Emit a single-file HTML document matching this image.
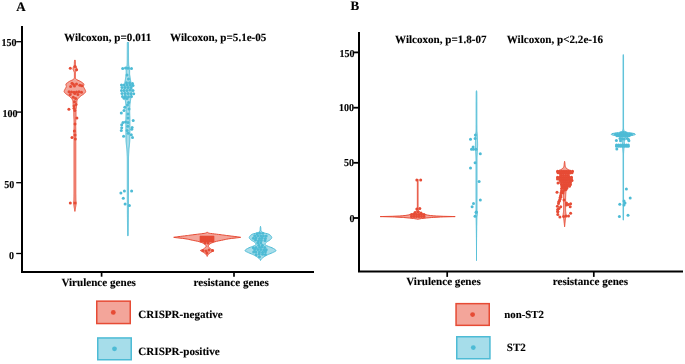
<!DOCTYPE html>
<html><head><meta charset="utf-8"><style>
html,body{margin:0;padding:0;background:#fff;}
body{width:685px;height:364px;overflow:hidden;}
svg{display:block;will-change:transform;filter:blur(0.25px);}
text{font-family:"Liberation Serif",serif;font-weight:bold;fill:#000;stroke:#000;stroke-width:0.12px;text-rendering:geometricPrecision;}
</style></head><body>
<svg width="685" height="364" viewBox="0 0 685 364">
<path d="M75.30,60.30 L75.33,60.80 L75.36,61.30 L75.39,61.80 L75.40,62.00 L75.41,62.30 L75.43,62.80 L75.44,63.30 L75.45,63.80 L75.46,64.30 L75.49,64.80 L75.50,65.00 L75.55,65.30 L75.71,65.80 L75.92,66.30 L76.00,66.50 L76.15,66.80 L76.45,67.30 L76.67,67.80 L76.70,68.00 L76.70,68.30 L76.70,68.80 L76.70,69.30 L76.70,69.50 L76.64,69.80 L76.39,70.30 L76.09,70.80 L76.00,71.00 L75.88,71.30 L75.68,71.80 L75.51,72.30 L75.41,72.80 L75.40,73.00 L75.40,73.30 L75.40,73.80 L75.40,74.30 L75.40,74.80 L75.40,75.30 L75.40,75.80 L75.40,76.30 L75.40,76.80 L75.40,77.30 L75.40,77.80 L75.40,78.00 L75.47,78.30 L75.83,78.80 L76.37,79.30 L76.60,79.50 L77.05,79.80 L78.13,80.30 L79.30,80.80 L79.90,81.10 L80.25,81.30 L81.07,81.80 L81.80,82.30 L82.20,82.60 L82.47,82.80 L83.17,83.30 L83.73,83.80 L83.90,84.20 L83.90,84.30 L83.83,84.80 L83.71,85.30 L83.59,85.80 L83.51,86.30 L83.50,86.50 L83.54,86.80 L83.73,87.30 L84.02,87.80 L84.33,88.30 L84.60,88.80 L84.84,89.30 L85.10,89.80 L85.34,90.30 L85.53,90.80 L85.64,91.30 L85.65,91.50 L85.60,91.80 L85.35,92.30 L84.94,92.80 L84.49,93.30 L84.40,93.40 L83.97,93.80 L83.28,94.30 L82.52,94.80 L81.80,95.30 L81.13,95.80 L80.46,96.30 L79.84,96.80 L79.40,97.20 L79.30,97.30 L78.81,97.80 L78.35,98.30 L77.96,98.80 L77.70,99.20 L77.64,99.30 L77.35,99.80 L77.10,100.30 L76.93,100.80 L76.90,101.00 L76.87,101.30 L76.83,101.80 L76.80,102.30 L76.78,102.80 L76.75,103.30 L76.73,103.80 L76.70,104.20 L76.69,104.30 L76.65,104.80 L76.60,105.30 L76.54,105.80 L76.48,106.30 L76.42,106.80 L76.40,107.00 L76.36,107.30 L76.28,107.80 L76.19,108.30 L76.11,108.80 L76.04,109.30 L76.00,109.80 L76.00,110.00 L76.00,110.30 L76.00,110.80 L76.00,111.30 L76.00,111.80 L76.00,112.30 L76.00,112.80 L76.00,113.30 L76.00,113.80 L76.00,114.30 L76.00,114.80 L76.00,115.00 L76.00,115.30 L75.99,115.80 L75.97,116.30 L75.95,116.80 L75.93,117.30 L75.90,117.80 L75.87,118.30 L75.85,118.80 L75.82,119.30 L75.81,119.80 L75.80,120.00 L75.79,120.30 L75.78,120.80 L75.76,121.30 L75.75,121.80 L75.74,122.30 L75.73,122.80 L75.72,123.30 L75.71,123.80 L75.70,124.30 L75.70,124.80 L75.70,125.00 L75.70,125.30 L75.70,125.80 L75.71,126.30 L75.72,126.80 L75.73,127.30 L75.75,127.80 L75.76,128.30 L75.77,128.80 L75.78,129.30 L75.80,129.80 L75.80,130.00 L75.81,130.30 L75.82,130.80 L75.83,131.30 L75.84,131.80 L75.86,132.30 L75.87,132.80 L75.88,133.30 L75.89,133.80 L75.90,134.30 L75.90,134.80 L75.90,135.00 L75.90,135.30 L75.89,135.80 L75.87,136.30 L75.86,136.80 L75.83,137.30 L75.81,137.80 L75.79,138.30 L75.77,138.80 L75.76,139.30 L75.75,139.80 L75.75,140.00 L75.75,140.30 L75.75,140.80 L75.76,141.30 L75.76,141.80 L75.77,142.30 L75.78,142.80 L75.79,143.30 L75.79,143.80 L75.80,144.30 L75.80,144.80 L75.80,145.00 L75.80,145.30 L75.80,145.80 L75.80,146.30 L75.80,146.80 L75.80,147.30 L75.80,147.80 L75.80,148.30 L75.80,148.80 L75.80,149.30 L75.80,149.80 L75.80,150.30 L75.80,150.80 L75.80,151.30 L75.80,151.80 L75.80,152.30 L75.80,152.80 L75.80,153.30 L75.80,153.80 L75.80,154.30 L75.80,154.80 L75.80,155.30 L75.80,155.80 L75.80,156.30 L75.80,156.80 L75.80,157.30 L75.80,157.80 L75.80,158.30 L75.80,158.80 L75.80,159.30 L75.80,159.80 L75.80,160.30 L75.80,160.80 L75.80,161.30 L75.80,161.80 L75.80,162.30 L75.80,162.80 L75.80,163.30 L75.80,163.80 L75.80,164.30 L75.80,164.80 L75.80,165.30 L75.80,165.80 L75.80,166.30 L75.80,166.80 L75.80,167.30 L75.80,167.80 L75.80,168.30 L75.80,168.80 L75.80,169.30 L75.80,169.80 L75.80,170.30 L75.80,170.80 L75.80,171.30 L75.80,171.80 L75.80,172.30 L75.80,172.80 L75.80,173.30 L75.80,173.80 L75.80,174.30 L75.80,174.80 L75.80,175.30 L75.80,175.80 L75.80,176.30 L75.80,176.80 L75.80,177.30 L75.80,177.80 L75.80,178.30 L75.80,178.80 L75.80,179.30 L75.80,179.80 L75.80,180.30 L75.80,180.80 L75.80,181.30 L75.80,181.80 L75.80,182.30 L75.80,182.80 L75.80,183.30 L75.80,183.80 L75.80,184.30 L75.80,184.80 L75.80,185.30 L75.80,185.80 L75.80,186.30 L75.80,186.80 L75.80,187.30 L75.80,187.80 L75.80,188.30 L75.80,188.80 L75.80,189.30 L75.80,189.80 L75.80,190.00 L75.80,190.30 L75.80,190.80 L75.80,191.30 L75.80,191.80 L75.80,192.30 L75.81,192.80 L75.81,193.30 L75.81,193.80 L75.82,194.30 L75.82,194.80 L75.83,195.30 L75.83,195.80 L75.84,196.30 L75.84,196.80 L75.85,197.30 L75.86,197.80 L75.87,198.30 L75.88,198.80 L75.89,199.30 L75.90,199.80 L75.90,200.00 L75.91,200.30 L75.96,200.80 L76.03,201.30 L76.10,201.80 L76.16,202.30 L76.20,202.80 L76.20,203.00 L76.19,203.30 L76.15,203.80 L76.09,204.30 L76.00,204.80 L75.92,205.30 L75.83,205.80 L75.80,206.00 L75.76,206.30 L75.68,206.80 L75.60,207.30 L75.52,207.80 L75.44,208.30 L75.36,208.80 L75.28,209.30 L75.19,209.80 L75.10,210.30 L75.01,210.80 L74.92,211.30 L74.90,211.40 L74.90,211.40 L74.88,211.30 L74.79,210.80 L74.70,210.30 L74.61,209.80 L74.52,209.30 L74.44,208.80 L74.36,208.30 L74.28,207.80 L74.20,207.30 L74.12,206.80 L74.04,206.30 L74.00,206.00 L73.97,205.80 L73.88,205.30 L73.80,204.80 L73.71,204.30 L73.65,203.80 L73.61,203.30 L73.60,203.00 L73.60,202.80 L73.64,202.30 L73.70,201.80 L73.77,201.30 L73.84,200.80 L73.89,200.30 L73.90,200.00 L73.90,199.80 L73.91,199.30 L73.92,198.80 L73.93,198.30 L73.94,197.80 L73.95,197.30 L73.96,196.80 L73.96,196.30 L73.97,195.80 L73.97,195.30 L73.98,194.80 L73.98,194.30 L73.99,193.80 L73.99,193.30 L73.99,192.80 L74.00,192.30 L74.00,191.80 L74.00,191.30 L74.00,190.80 L74.00,190.30 L74.00,190.00 L74.00,189.80 L74.00,189.30 L74.00,188.80 L74.00,188.30 L74.00,187.80 L74.00,187.30 L74.00,186.80 L74.00,186.30 L74.00,185.80 L74.00,185.30 L74.00,184.80 L74.00,184.30 L74.00,183.80 L74.00,183.30 L74.00,182.80 L74.00,182.30 L74.00,181.80 L74.00,181.30 L74.00,180.80 L74.00,180.30 L74.00,179.80 L74.00,179.30 L74.00,178.80 L74.00,178.30 L74.00,177.80 L74.00,177.30 L74.00,176.80 L74.00,176.30 L74.00,175.80 L74.00,175.30 L74.00,174.80 L74.00,174.30 L74.00,173.80 L74.00,173.30 L74.00,172.80 L74.00,172.30 L74.00,171.80 L74.00,171.30 L74.00,170.80 L74.00,170.30 L74.00,169.80 L74.00,169.30 L74.00,168.80 L74.00,168.30 L74.00,167.80 L74.00,167.30 L74.00,166.80 L74.00,166.30 L74.00,165.80 L74.00,165.30 L74.00,164.80 L74.00,164.30 L74.00,163.80 L74.00,163.30 L74.00,162.80 L74.00,162.30 L74.00,161.80 L74.00,161.30 L74.00,160.80 L74.00,160.30 L74.00,159.80 L74.00,159.30 L74.00,158.80 L74.00,158.30 L74.00,157.80 L74.00,157.30 L74.00,156.80 L74.00,156.30 L74.00,155.80 L74.00,155.30 L74.00,154.80 L74.00,154.30 L74.00,153.80 L74.00,153.30 L74.00,152.80 L74.00,152.30 L74.00,151.80 L74.00,151.30 L74.00,150.80 L74.00,150.30 L74.00,149.80 L74.00,149.30 L74.00,148.80 L74.00,148.30 L74.00,147.80 L74.00,147.30 L74.00,146.80 L74.00,146.30 L74.00,145.80 L74.00,145.30 L74.00,145.00 L74.00,144.80 L74.00,144.30 L74.01,143.80 L74.01,143.30 L74.02,142.80 L74.03,142.30 L74.04,141.80 L74.04,141.30 L74.05,140.80 L74.05,140.30 L74.05,140.00 L74.05,139.80 L74.04,139.30 L74.03,138.80 L74.01,138.30 L73.99,137.80 L73.97,137.30 L73.94,136.80 L73.93,136.30 L73.91,135.80 L73.90,135.30 L73.90,135.00 L73.90,134.80 L73.90,134.30 L73.91,133.80 L73.92,133.30 L73.93,132.80 L73.94,132.30 L73.96,131.80 L73.97,131.30 L73.98,130.80 L73.99,130.30 L74.00,130.00 L74.00,129.80 L74.02,129.30 L74.03,128.80 L74.04,128.30 L74.05,127.80 L74.07,127.30 L74.08,126.80 L74.09,126.30 L74.10,125.80 L74.10,125.30 L74.10,125.00 L74.10,124.80 L74.10,124.30 L74.09,123.80 L74.08,123.30 L74.07,122.80 L74.06,122.30 L74.05,121.80 L74.04,121.30 L74.02,120.80 L74.01,120.30 L74.00,120.00 L73.99,119.80 L73.98,119.30 L73.95,118.80 L73.93,118.30 L73.90,117.80 L73.87,117.30 L73.85,116.80 L73.83,116.30 L73.81,115.80 L73.80,115.30 L73.80,115.00 L73.80,114.80 L73.80,114.30 L73.80,113.80 L73.80,113.30 L73.80,112.80 L73.80,112.30 L73.80,111.80 L73.80,111.30 L73.80,110.80 L73.80,110.30 L73.80,110.00 L73.80,109.80 L73.76,109.30 L73.69,108.80 L73.61,108.30 L73.52,107.80 L73.44,107.30 L73.40,107.00 L73.38,106.80 L73.32,106.30 L73.26,105.80 L73.20,105.30 L73.15,104.80 L73.11,104.30 L73.10,104.20 L73.07,103.80 L73.05,103.30 L73.02,102.80 L73.00,102.30 L72.97,101.80 L72.93,101.30 L72.90,101.00 L72.87,100.80 L72.70,100.30 L72.45,99.80 L72.16,99.30 L72.10,99.20 L71.84,98.80 L71.45,98.30 L70.99,97.80 L70.50,97.30 L70.40,97.20 L69.96,96.80 L69.34,96.30 L68.67,95.80 L68.00,95.30 L67.28,94.80 L66.52,94.30 L65.83,93.80 L65.40,93.40 L65.31,93.30 L64.86,92.80 L64.45,92.30 L64.20,91.80 L64.15,91.50 L64.16,91.30 L64.27,90.80 L64.46,90.30 L64.70,89.80 L64.96,89.30 L65.20,88.80 L65.47,88.30 L65.78,87.80 L66.07,87.30 L66.26,86.80 L66.30,86.50 L66.29,86.30 L66.21,85.80 L66.09,85.30 L65.97,84.80 L65.90,84.30 L65.90,84.20 L66.07,83.80 L66.63,83.30 L67.33,82.80 L67.60,82.60 L68.00,82.30 L68.73,81.80 L69.55,81.30 L69.90,81.10 L70.50,80.80 L71.67,80.30 L72.75,79.80 L73.20,79.50 L73.43,79.30 L73.97,78.80 L74.33,78.30 L74.40,78.00 L74.40,77.80 L74.40,77.30 L74.40,76.80 L74.40,76.30 L74.40,75.80 L74.40,75.30 L74.40,74.80 L74.40,74.30 L74.40,73.80 L74.40,73.30 L74.40,73.00 L74.39,72.80 L74.29,72.30 L74.12,71.80 L73.92,71.30 L73.80,71.00 L73.71,70.80 L73.41,70.30 L73.16,69.80 L73.10,69.50 L73.10,69.30 L73.10,68.80 L73.10,68.30 L73.10,68.00 L73.13,67.80 L73.35,67.30 L73.65,66.80 L73.80,66.50 L73.88,66.30 L74.09,65.80 L74.25,65.30 L74.30,65.00 L74.31,64.80 L74.34,64.30 L74.35,63.80 L74.36,63.30 L74.37,62.80 L74.39,62.30 L74.40,62.00 L74.41,61.80 L74.44,61.30 L74.47,60.80 L74.50,60.30 Z" fill="#F3A59A" stroke="#E64B35" stroke-width="1.0" stroke-linejoin="round"/>
<circle cx="70.3" cy="68.2" r="1.5" fill="#E64B35"/><circle cx="76.6" cy="69.8" r="1.5" fill="#E64B35"/><circle cx="75" cy="66.5" r="1.5" fill="#E64B35"/><circle cx="73.3" cy="84.2" r="1.5" fill="#E64B35"/><circle cx="70.6" cy="86.5" r="1.5" fill="#E64B35"/><circle cx="74.5" cy="86.1" r="1.5" fill="#E64B35"/><circle cx="79.8" cy="85.3" r="1.5" fill="#E64B35"/><circle cx="81.8" cy="85.7" r="1.5" fill="#E64B35"/><circle cx="76.5" cy="84" r="1.5" fill="#E64B35"/><circle cx="72" cy="83.2" r="1.5" fill="#E64B35"/><circle cx="69" cy="91.8" r="1.5" fill="#E64B35"/><circle cx="71.5" cy="92" r="1.5" fill="#E64B35"/><circle cx="74" cy="92.3" r="1.5" fill="#E64B35"/><circle cx="76.5" cy="92" r="1.5" fill="#E64B35"/><circle cx="79" cy="91.8" r="1.5" fill="#E64B35"/><circle cx="81.5" cy="92.2" r="1.5" fill="#E64B35"/><circle cx="70.2" cy="94.5" r="1.5" fill="#E64B35"/><circle cx="74.8" cy="93.4" r="1.5" fill="#E64B35"/><circle cx="77.9" cy="94.5" r="1.5" fill="#E64B35"/><circle cx="73.3" cy="97.2" r="1.5" fill="#E64B35"/><circle cx="75.6" cy="98.4" r="1.5" fill="#E64B35"/><circle cx="74.5" cy="101.8" r="1.5" fill="#E64B35"/><circle cx="76" cy="104.5" r="1.5" fill="#E64B35"/><circle cx="74" cy="106" r="1.5" fill="#E64B35"/><circle cx="68.9" cy="109.3" r="1.5" fill="#E64B35"/><circle cx="74" cy="108.3" r="1.5" fill="#E64B35"/><circle cx="74.8" cy="110.4" r="1.5" fill="#E64B35"/><circle cx="76.9" cy="118" r="1.5" fill="#E64B35"/><circle cx="74.4" cy="131" r="1.5" fill="#E64B35"/><circle cx="72" cy="137.6" r="1.5" fill="#E64B35"/><circle cx="75" cy="135" r="1.5" fill="#E64B35"/><circle cx="75.3" cy="139" r="1.5" fill="#E64B35"/><circle cx="75" cy="124" r="1.5" fill="#E64B35"/><circle cx="70.3" cy="202.9" r="1.5" fill="#E64B35"/><circle cx="75" cy="203" r="1.5" fill="#E64B35"/>
<path d="M128.50,42.50 L128.50,43.00 L128.50,43.50 L128.50,44.00 L128.50,44.50 L128.50,45.00 L128.50,45.50 L128.50,46.00 L128.50,46.50 L128.50,47.00 L128.50,47.50 L128.50,48.00 L128.51,48.50 L128.51,49.00 L128.51,49.50 L128.51,50.00 L128.51,50.50 L128.51,51.00 L128.51,51.50 L128.51,52.00 L128.52,52.50 L128.52,53.00 L128.52,53.50 L128.52,54.00 L128.52,54.50 L128.52,55.00 L128.53,55.50 L128.53,56.00 L128.53,56.50 L128.53,57.00 L128.54,57.50 L128.54,58.00 L128.54,58.50 L128.54,59.00 L128.55,59.50 L128.55,60.00 L128.55,60.50 L128.56,61.00 L128.57,61.50 L128.58,62.00 L128.59,62.50 L128.61,63.00 L128.63,63.50 L128.65,64.00 L128.67,64.50 L128.70,65.00 L128.77,65.50 L128.89,66.00 L129.04,66.50 L129.20,67.00 L129.42,67.50 L129.68,68.00 L129.80,68.50 L129.77,69.00 L129.70,69.50 L129.63,70.00 L129.60,70.50 L129.60,71.00 L129.60,71.50 L129.60,72.00 L129.60,72.50 L129.60,73.00 L129.60,73.50 L129.61,74.00 L129.65,74.50 L129.71,75.00 L129.79,75.50 L129.87,76.00 L129.96,76.50 L130.04,77.00 L130.10,77.40 L130.11,77.50 L130.19,78.00 L130.27,78.50 L130.35,79.00 L130.43,79.50 L130.52,80.00 L130.60,80.50 L130.69,81.00 L130.78,81.50 L130.88,82.00 L130.97,82.50 L131.07,83.00 L131.16,83.50 L131.25,84.00 L131.33,84.50 L131.40,85.00 L131.47,85.50 L131.53,86.00 L131.60,86.50 L131.67,87.00 L131.73,87.50 L131.79,88.00 L131.83,88.50 L131.87,89.00 L131.89,89.50 L131.90,90.00 L131.89,90.50 L131.87,91.00 L131.83,91.50 L131.78,92.00 L131.73,92.50 L131.67,93.00 L131.60,93.50 L131.53,94.00 L131.46,94.50 L131.40,95.00 L131.33,95.50 L131.26,96.00 L131.17,96.50 L131.08,97.00 L130.99,97.50 L130.90,98.00 L130.81,98.50 L130.73,99.00 L130.65,99.50 L130.60,99.80 L130.57,100.00 L130.49,100.50 L130.42,101.00 L130.34,101.50 L130.26,102.00 L130.19,102.50 L130.12,103.00 L130.05,103.50 L130.00,104.00 L129.95,104.50 L129.91,105.00 L129.90,105.20 L129.88,105.50 L129.86,106.00 L129.83,106.50 L129.81,107.00 L129.79,107.50 L129.77,108.00 L129.75,108.50 L129.74,109.00 L129.72,109.50 L129.71,110.00 L129.71,110.50 L129.70,111.00 L129.70,111.40 L129.70,111.50 L129.70,112.00 L129.71,112.50 L129.72,113.00 L129.73,113.50 L129.74,114.00 L129.76,114.50 L129.78,115.00 L129.79,115.50 L129.81,116.00 L129.83,116.50 L129.84,117.00 L129.86,117.50 L129.87,118.00 L129.88,118.50 L129.89,119.00 L129.90,119.50 L129.90,120.00 L129.90,120.50 L129.90,121.00 L129.90,121.50 L129.90,122.00 L129.90,122.50 L129.90,123.00 L129.90,123.50 L129.90,124.00 L129.90,124.50 L129.90,125.00 L129.90,125.50 L129.90,126.00 L129.90,126.50 L129.90,127.00 L129.90,127.50 L129.90,128.00 L129.90,128.50 L129.90,129.00 L129.90,129.50 L129.90,130.00 L129.90,130.50 L129.90,131.00 L129.90,131.50 L129.90,132.00 L129.89,132.50 L129.89,133.00 L129.89,133.50 L129.88,134.00 L129.88,134.50 L129.87,135.00 L129.87,135.50 L129.86,136.00 L129.86,136.50 L129.85,137.00 L129.84,137.50 L129.84,138.00 L129.83,138.50 L129.82,139.00 L129.81,139.50 L129.80,140.00 L129.78,140.50 L129.76,141.00 L129.73,141.50 L129.69,142.00 L129.64,142.50 L129.60,143.00 L129.55,143.50 L129.50,144.00 L129.45,144.50 L129.40,145.00 L129.35,145.50 L129.30,146.00 L129.25,146.50 L129.19,147.00 L129.13,147.50 L129.08,148.00 L129.02,148.50 L128.98,149.00 L128.93,149.50 L128.90,150.00 L128.87,150.50 L128.84,151.00 L128.81,151.50 L128.78,152.00 L128.75,152.50 L128.73,153.00 L128.70,153.50 L128.67,154.00 L128.65,154.50 L128.62,155.00 L128.60,155.50 L128.58,156.00 L128.56,156.50 L128.55,157.00 L128.53,157.50 L128.52,158.00 L128.51,158.50 L128.51,159.00 L128.50,159.50 L128.50,160.00 L128.50,160.50 L128.50,161.00 L128.50,161.50 L128.50,162.00 L128.50,162.50 L128.50,163.00 L128.50,163.50 L128.50,164.00 L128.50,164.50 L128.50,165.00 L128.50,165.50 L128.50,166.00 L128.50,166.50 L128.50,167.00 L128.50,167.50 L128.50,168.00 L128.50,168.50 L128.50,169.00 L128.50,169.50 L128.50,170.00 L128.50,170.50 L128.50,171.00 L128.50,171.50 L128.50,172.00 L128.50,172.50 L128.50,173.00 L128.50,173.50 L128.50,174.00 L128.50,174.50 L128.50,175.00 L128.50,175.50 L128.50,176.00 L128.50,176.50 L128.50,177.00 L128.50,177.50 L128.50,178.00 L128.50,178.50 L128.50,179.00 L128.50,179.50 L128.50,180.00 L128.50,180.50 L128.50,181.00 L128.50,181.50 L128.50,182.00 L128.50,182.50 L128.50,183.00 L128.50,183.50 L128.50,184.00 L128.50,184.50 L128.50,185.00 L128.50,185.50 L128.50,186.00 L128.50,186.50 L128.50,187.00 L128.50,187.50 L128.50,188.00 L128.50,188.50 L128.50,189.00 L128.50,189.50 L128.50,190.00 L128.50,190.50 L128.50,191.00 L128.50,191.50 L128.50,192.00 L128.50,192.50 L128.50,193.00 L128.50,193.50 L128.50,194.00 L128.50,194.50 L128.50,195.00 L128.49,195.50 L128.49,196.00 L128.49,196.50 L128.49,197.00 L128.49,197.50 L128.49,198.00 L128.49,198.50 L128.48,199.00 L128.48,199.50 L128.48,200.00 L128.48,200.50 L128.48,201.00 L128.48,201.50 L128.47,202.00 L128.47,202.50 L128.47,203.00 L128.47,203.50 L128.46,204.00 L128.46,204.50 L128.46,205.00 L128.46,205.50 L128.45,206.00 L128.45,206.50 L128.45,207.00 L128.45,207.50 L128.44,208.00 L128.44,208.50 L128.44,209.00 L128.43,209.50 L128.43,210.00 L128.43,210.50 L128.42,211.00 L128.42,211.50 L128.42,212.00 L128.41,212.50 L128.41,213.00 L128.41,213.50 L128.40,214.00 L128.40,214.50 L128.39,215.00 L128.39,215.50 L128.39,216.00 L128.38,216.50 L128.38,217.00 L128.37,217.50 L128.37,218.00 L128.37,218.50 L128.36,219.00 L128.36,219.50 L128.35,220.00 L128.35,220.50 L128.34,221.00 L128.34,221.50 L128.34,222.00 L128.33,222.50 L128.33,223.00 L128.32,223.50 L128.32,224.00 L128.31,224.50 L128.31,225.00 L128.30,225.50 L128.30,226.00 L128.29,226.50 L128.29,227.00 L128.28,227.50 L128.28,228.00 L128.27,228.50 L128.27,229.00 L128.26,229.50 L128.26,230.00 L128.25,230.50 L128.25,231.00 L128.24,231.50 L128.24,232.00 L128.23,232.50 L128.23,233.00 L128.22,233.50 L128.22,234.00 L128.21,234.50 L128.21,235.00 L128.20,235.50 L128.20,235.70 L127.60,235.70 L127.60,235.50 L127.59,235.00 L127.59,234.50 L127.58,234.00 L127.58,233.50 L127.57,233.00 L127.57,232.50 L127.56,232.00 L127.56,231.50 L127.55,231.00 L127.55,230.50 L127.54,230.00 L127.54,229.50 L127.53,229.00 L127.53,228.50 L127.52,228.00 L127.52,227.50 L127.51,227.00 L127.51,226.50 L127.50,226.00 L127.50,225.50 L127.49,225.00 L127.49,224.50 L127.48,224.00 L127.48,223.50 L127.47,223.00 L127.47,222.50 L127.46,222.00 L127.46,221.50 L127.46,221.00 L127.45,220.50 L127.45,220.00 L127.44,219.50 L127.44,219.00 L127.43,218.50 L127.43,218.00 L127.43,217.50 L127.42,217.00 L127.42,216.50 L127.41,216.00 L127.41,215.50 L127.41,215.00 L127.40,214.50 L127.40,214.00 L127.39,213.50 L127.39,213.00 L127.39,212.50 L127.38,212.00 L127.38,211.50 L127.38,211.00 L127.37,210.50 L127.37,210.00 L127.37,209.50 L127.36,209.00 L127.36,208.50 L127.36,208.00 L127.35,207.50 L127.35,207.00 L127.35,206.50 L127.35,206.00 L127.34,205.50 L127.34,205.00 L127.34,204.50 L127.34,204.00 L127.33,203.50 L127.33,203.00 L127.33,202.50 L127.33,202.00 L127.32,201.50 L127.32,201.00 L127.32,200.50 L127.32,200.00 L127.32,199.50 L127.32,199.00 L127.31,198.50 L127.31,198.00 L127.31,197.50 L127.31,197.00 L127.31,196.50 L127.31,196.00 L127.31,195.50 L127.30,195.00 L127.30,194.50 L127.30,194.00 L127.30,193.50 L127.30,193.00 L127.30,192.50 L127.30,192.00 L127.30,191.50 L127.30,191.00 L127.30,190.50 L127.30,190.00 L127.30,189.50 L127.30,189.00 L127.30,188.50 L127.30,188.00 L127.30,187.50 L127.30,187.00 L127.30,186.50 L127.30,186.00 L127.30,185.50 L127.30,185.00 L127.30,184.50 L127.30,184.00 L127.30,183.50 L127.30,183.00 L127.30,182.50 L127.30,182.00 L127.30,181.50 L127.30,181.00 L127.30,180.50 L127.30,180.00 L127.30,179.50 L127.30,179.00 L127.30,178.50 L127.30,178.00 L127.30,177.50 L127.30,177.00 L127.30,176.50 L127.30,176.00 L127.30,175.50 L127.30,175.00 L127.30,174.50 L127.30,174.00 L127.30,173.50 L127.30,173.00 L127.30,172.50 L127.30,172.00 L127.30,171.50 L127.30,171.00 L127.30,170.50 L127.30,170.00 L127.30,169.50 L127.30,169.00 L127.30,168.50 L127.30,168.00 L127.30,167.50 L127.30,167.00 L127.30,166.50 L127.30,166.00 L127.30,165.50 L127.30,165.00 L127.30,164.50 L127.30,164.00 L127.30,163.50 L127.30,163.00 L127.30,162.50 L127.30,162.00 L127.30,161.50 L127.30,161.00 L127.30,160.50 L127.30,160.00 L127.30,159.50 L127.29,159.00 L127.29,158.50 L127.28,158.00 L127.27,157.50 L127.25,157.00 L127.24,156.50 L127.22,156.00 L127.20,155.50 L127.18,155.00 L127.15,154.50 L127.13,154.00 L127.10,153.50 L127.07,153.00 L127.05,152.50 L127.02,152.00 L126.99,151.50 L126.96,151.00 L126.93,150.50 L126.90,150.00 L126.87,149.50 L126.82,149.00 L126.78,148.50 L126.72,148.00 L126.67,147.50 L126.61,147.00 L126.55,146.50 L126.50,146.00 L126.45,145.50 L126.40,145.00 L126.35,144.50 L126.30,144.00 L126.25,143.50 L126.20,143.00 L126.16,142.50 L126.11,142.00 L126.07,141.50 L126.04,141.00 L126.02,140.50 L126.00,140.00 L125.99,139.50 L125.98,139.00 L125.97,138.50 L125.96,138.00 L125.96,137.50 L125.95,137.00 L125.94,136.50 L125.94,136.00 L125.93,135.50 L125.93,135.00 L125.92,134.50 L125.92,134.00 L125.91,133.50 L125.91,133.00 L125.91,132.50 L125.90,132.00 L125.90,131.50 L125.90,131.00 L125.90,130.50 L125.90,130.00 L125.90,129.50 L125.90,129.00 L125.90,128.50 L125.90,128.00 L125.90,127.50 L125.90,127.00 L125.90,126.50 L125.90,126.00 L125.90,125.50 L125.90,125.00 L125.90,124.50 L125.90,124.00 L125.90,123.50 L125.90,123.00 L125.90,122.50 L125.90,122.00 L125.90,121.50 L125.90,121.00 L125.90,120.50 L125.90,120.00 L125.90,119.50 L125.91,119.00 L125.92,118.50 L125.93,118.00 L125.94,117.50 L125.96,117.00 L125.97,116.50 L125.99,116.00 L126.01,115.50 L126.02,115.00 L126.04,114.50 L126.06,114.00 L126.07,113.50 L126.08,113.00 L126.09,112.50 L126.10,112.00 L126.10,111.50 L126.10,111.40 L126.10,111.00 L126.09,110.50 L126.09,110.00 L126.08,109.50 L126.06,109.00 L126.05,108.50 L126.03,108.00 L126.01,107.50 L125.99,107.00 L125.97,106.50 L125.94,106.00 L125.92,105.50 L125.90,105.20 L125.89,105.00 L125.85,104.50 L125.80,104.00 L125.75,103.50 L125.68,103.00 L125.61,102.50 L125.54,102.00 L125.46,101.50 L125.38,101.00 L125.31,100.50 L125.23,100.00 L125.20,99.80 L125.15,99.50 L125.07,99.00 L124.99,98.50 L124.90,98.00 L124.81,97.50 L124.72,97.00 L124.63,96.50 L124.54,96.00 L124.47,95.50 L124.40,95.00 L124.34,94.50 L124.27,94.00 L124.20,93.50 L124.13,93.00 L124.07,92.50 L124.02,92.00 L123.97,91.50 L123.93,91.00 L123.91,90.50 L123.90,90.00 L123.91,89.50 L123.93,89.00 L123.97,88.50 L124.01,88.00 L124.07,87.50 L124.13,87.00 L124.20,86.50 L124.27,86.00 L124.33,85.50 L124.40,85.00 L124.47,84.50 L124.55,84.00 L124.64,83.50 L124.73,83.00 L124.83,82.50 L124.92,82.00 L125.02,81.50 L125.11,81.00 L125.20,80.50 L125.28,80.00 L125.37,79.50 L125.45,79.00 L125.53,78.50 L125.61,78.00 L125.69,77.50 L125.70,77.40 L125.76,77.00 L125.84,76.50 L125.93,76.00 L126.01,75.50 L126.09,75.00 L126.15,74.50 L126.19,74.00 L126.20,73.50 L126.20,73.00 L126.20,72.50 L126.20,72.00 L126.20,71.50 L126.20,71.00 L126.20,70.50 L126.17,70.00 L126.10,69.50 L126.03,69.00 L126.00,68.50 L126.12,68.00 L126.38,67.50 L126.60,67.00 L126.76,66.50 L126.91,66.00 L127.03,65.50 L127.10,65.00 L127.13,64.50 L127.15,64.00 L127.17,63.50 L127.19,63.00 L127.21,62.50 L127.22,62.00 L127.23,61.50 L127.24,61.00 L127.25,60.50 L127.25,60.00 L127.25,59.50 L127.26,59.00 L127.26,58.50 L127.26,58.00 L127.26,57.50 L127.27,57.00 L127.27,56.50 L127.27,56.00 L127.27,55.50 L127.28,55.00 L127.28,54.50 L127.28,54.00 L127.28,53.50 L127.28,53.00 L127.28,52.50 L127.29,52.00 L127.29,51.50 L127.29,51.00 L127.29,50.50 L127.29,50.00 L127.29,49.50 L127.29,49.00 L127.29,48.50 L127.30,48.00 L127.30,47.50 L127.30,47.00 L127.30,46.50 L127.30,46.00 L127.30,45.50 L127.30,45.00 L127.30,44.50 L127.30,44.00 L127.30,43.50 L127.30,43.00 L127.30,42.50 Z" fill="#A6DDEA" stroke="#4DBBD5" stroke-width="1.0" stroke-linejoin="round"/>
<circle cx="122.7" cy="68.5" r="1.5" fill="#4DBBD5"/><circle cx="125.5" cy="68" r="1.5" fill="#4DBBD5"/><circle cx="128" cy="68.2" r="1.5" fill="#4DBBD5"/><circle cx="131.5" cy="68.5" r="1.5" fill="#4DBBD5"/><circle cx="127" cy="75" r="1.5" fill="#4DBBD5"/><circle cx="128.5" cy="79" r="1.5" fill="#4DBBD5"/><circle cx="126.5" cy="82.8" r="1.5" fill="#4DBBD5"/><circle cx="129.5" cy="82.8" r="1.5" fill="#4DBBD5"/><circle cx="132.5" cy="83.5" r="1.5" fill="#4DBBD5"/><circle cx="121.5" cy="85" r="1.5" fill="#4DBBD5"/><circle cx="124" cy="85" r="1.5" fill="#4DBBD5"/><circle cx="127" cy="85" r="1.5" fill="#4DBBD5"/><circle cx="130" cy="85" r="1.5" fill="#4DBBD5"/><circle cx="133" cy="85.5" r="1.5" fill="#4DBBD5"/><circle cx="122" cy="87.5" r="1.5" fill="#4DBBD5"/><circle cx="125" cy="87.5" r="1.5" fill="#4DBBD5"/><circle cx="128" cy="87.5" r="1.5" fill="#4DBBD5"/><circle cx="131" cy="87.5" r="1.5" fill="#4DBBD5"/><circle cx="121.5" cy="90.5" r="1.5" fill="#4DBBD5"/><circle cx="124" cy="90.5" r="1.5" fill="#4DBBD5"/><circle cx="127" cy="90.5" r="1.5" fill="#4DBBD5"/><circle cx="130" cy="90" r="1.5" fill="#4DBBD5"/><circle cx="133" cy="90.5" r="1.5" fill="#4DBBD5"/><circle cx="122" cy="93.5" r="1.5" fill="#4DBBD5"/><circle cx="125" cy="93.5" r="1.5" fill="#4DBBD5"/><circle cx="128" cy="93.5" r="1.5" fill="#4DBBD5"/><circle cx="131" cy="93.7" r="1.5" fill="#4DBBD5"/><circle cx="133.7" cy="93.7" r="1.5" fill="#4DBBD5"/><circle cx="122.5" cy="96.5" r="1.5" fill="#4DBBD5"/><circle cx="125.5" cy="96.5" r="1.5" fill="#4DBBD5"/><circle cx="128.5" cy="96.8" r="1.5" fill="#4DBBD5"/><circle cx="131.5" cy="96.5" r="1.5" fill="#4DBBD5"/><circle cx="124" cy="98.3" r="1.5" fill="#4DBBD5"/><circle cx="127" cy="98.5" r="1.5" fill="#4DBBD5"/><circle cx="128.6" cy="102.5" r="1.5" fill="#4DBBD5"/><circle cx="124.8" cy="107.2" r="1.5" fill="#4DBBD5"/><circle cx="124" cy="110.6" r="1.5" fill="#4DBBD5"/><circle cx="121.3" cy="112.9" r="1.5" fill="#4DBBD5"/><circle cx="127.5" cy="105" r="1.5" fill="#4DBBD5"/><circle cx="129" cy="109" r="1.5" fill="#4DBBD5"/><circle cx="128" cy="114" r="1.5" fill="#4DBBD5"/><circle cx="133.2" cy="120.5" r="1.5" fill="#4DBBD5"/><circle cx="123" cy="122.5" r="1.5" fill="#4DBBD5"/><circle cx="125.5" cy="122" r="1.5" fill="#4DBBD5"/><circle cx="128" cy="122.5" r="1.5" fill="#4DBBD5"/><circle cx="121.7" cy="124.7" r="1.5" fill="#4DBBD5"/><circle cx="121.7" cy="127.8" r="1.5" fill="#4DBBD5"/><circle cx="121.3" cy="130.5" r="1.5" fill="#4DBBD5"/><circle cx="127.8" cy="126.2" r="1.5" fill="#4DBBD5"/><circle cx="132.1" cy="127.4" r="1.5" fill="#4DBBD5"/><circle cx="131.7" cy="129.3" r="1.5" fill="#4DBBD5"/><circle cx="127.1" cy="130.5" r="1.5" fill="#4DBBD5"/><circle cx="123.6" cy="136.2" r="1.5" fill="#4DBBD5"/><circle cx="131.3" cy="134.7" r="1.5" fill="#4DBBD5"/><circle cx="132.5" cy="137.4" r="1.5" fill="#4DBBD5"/><circle cx="128.2" cy="133.2" r="1.5" fill="#4DBBD5"/><circle cx="128" cy="118" r="1.5" fill="#4DBBD5"/><circle cx="120.9" cy="192.9" r="1.5" fill="#4DBBD5"/><circle cx="124.4" cy="191.1" r="1.5" fill="#4DBBD5"/><circle cx="131.6" cy="191.1" r="1.5" fill="#4DBBD5"/><circle cx="123.3" cy="198.3" r="1.5" fill="#4DBBD5"/><circle cx="125.1" cy="204" r="1.5" fill="#4DBBD5"/><circle cx="129.4" cy="205.4" r="1.5" fill="#4DBBD5"/>
<path d="M207.20,231.90 L207.49,232.40 L207.70,232.60 L208.25,232.90 L209.20,233.20 L210.34,233.40 L212.70,233.70 L214.25,233.90 L216.70,234.20 L218.38,234.40 L221.70,234.80 L222.45,234.90 L225.95,235.40 L226.70,235.50 L230.03,235.90 L231.70,236.10 L234.12,236.40 L237.20,236.80 L238.04,236.90 L240.70,237.30 L240.46,237.40 L237.20,237.80 L236.35,237.90 L231.70,238.40 L228.38,238.90 L226.70,239.20 L225.70,239.40 L223.48,239.90 L221.70,240.30 L221.21,240.40 L218.58,240.90 L216.70,241.30 L216.31,241.40 L214.59,241.90 L213.70,242.20 L213.13,242.40 L211.84,242.90 L211.20,243.20 L210.82,243.40 L209.95,243.90 L209.30,244.40 L209.20,244.50 L208.87,244.90 L208.57,245.40 L208.50,245.60 L208.41,245.90 L208.31,246.40 L208.30,246.60 L208.41,246.90 L208.93,247.40 L209.58,247.90 L209.70,248.00 L210.16,248.40 L210.79,248.90 L211.53,249.40 L211.70,249.50 L212.76,249.90 L213.95,250.40 L214.00,250.50 L213.51,250.90 L212.70,251.30 L212.53,251.40 L211.68,251.90 L210.85,252.40 L210.70,252.50 L210.09,252.90 L209.38,253.40 L208.90,253.80 L208.80,253.90 L208.34,254.40 L207.96,254.90 L207.90,255.00 L207.66,255.40 L207.40,255.90 L207.20,256.40 L207.20,256.40 L207.00,255.90 L206.74,255.40 L206.50,255.00 L206.44,254.90 L206.06,254.40 L205.60,253.90 L205.50,253.80 L205.02,253.40 L204.31,252.90 L203.70,252.50 L203.55,252.40 L202.72,251.90 L201.87,251.40 L201.70,251.30 L200.89,250.90 L200.40,250.50 L200.45,250.40 L201.64,249.90 L202.70,249.50 L202.87,249.40 L203.61,248.90 L204.24,248.40 L204.70,248.00 L204.82,247.90 L205.47,247.40 L205.99,246.90 L206.10,246.60 L206.09,246.40 L205.99,245.90 L205.90,245.60 L205.83,245.40 L205.53,244.90 L205.20,244.50 L205.10,244.40 L204.45,243.90 L203.58,243.40 L203.20,243.20 L202.56,242.90 L201.27,242.40 L200.70,242.20 L199.81,241.90 L198.09,241.40 L197.70,241.30 L195.82,240.90 L193.19,240.40 L192.70,240.30 L190.92,239.90 L188.70,239.40 L187.70,239.20 L186.02,238.90 L182.70,238.40 L178.05,237.90 L177.20,237.80 L173.94,237.40 L173.70,237.30 L176.36,236.90 L177.20,236.80 L180.28,236.40 L182.70,236.10 L184.37,235.90 L187.70,235.50 L188.45,235.40 L191.95,234.90 L192.70,234.80 L196.02,234.40 L197.70,234.20 L200.15,233.90 L201.70,233.70 L204.06,233.40 L205.20,233.20 L206.15,232.90 L206.70,232.60 L206.91,232.40 L207.20,231.90 Z" fill="#F3A59A" stroke="#E64B35" stroke-width="1.0" stroke-linejoin="round"/>
<circle cx="201" cy="237" r="1.5" fill="#E64B35"/><circle cx="201" cy="239" r="1.5" fill="#E64B35"/><circle cx="201" cy="241" r="1.5" fill="#E64B35"/><circle cx="203" cy="237" r="1.5" fill="#E64B35"/><circle cx="203" cy="239" r="1.5" fill="#E64B35"/><circle cx="203" cy="241" r="1.5" fill="#E64B35"/><circle cx="205" cy="237" r="1.5" fill="#E64B35"/><circle cx="205" cy="239" r="1.5" fill="#E64B35"/><circle cx="205" cy="241" r="1.5" fill="#E64B35"/><circle cx="207" cy="237" r="1.5" fill="#E64B35"/><circle cx="207" cy="239" r="1.5" fill="#E64B35"/><circle cx="207" cy="241" r="1.5" fill="#E64B35"/><circle cx="209" cy="237" r="1.5" fill="#E64B35"/><circle cx="209" cy="239" r="1.5" fill="#E64B35"/><circle cx="209" cy="241" r="1.5" fill="#E64B35"/><circle cx="211" cy="237" r="1.5" fill="#E64B35"/><circle cx="211" cy="239" r="1.5" fill="#E64B35"/><circle cx="211" cy="241" r="1.5" fill="#E64B35"/><circle cx="213" cy="237" r="1.5" fill="#E64B35"/><circle cx="213" cy="239" r="1.5" fill="#E64B35"/><circle cx="213" cy="241" r="1.5" fill="#E64B35"/><circle cx="205" cy="243" r="1.5" fill="#E64B35"/><circle cx="208" cy="243" r="1.5" fill="#E64B35"/><circle cx="203" cy="250.5" r="1.5" fill="#E64B35"/><circle cx="206" cy="251" r="1.5" fill="#E64B35"/><circle cx="209" cy="250" r="1.5" fill="#E64B35"/><circle cx="212.5" cy="250.5" r="1.5" fill="#E64B35"/><circle cx="207" cy="253" r="1.5" fill="#E64B35"/>
<path d="M260.50,226.30 L260.60,226.80 L260.70,227.30 L260.78,227.80 L260.80,228.00 L260.83,228.30 L260.86,228.80 L260.89,229.30 L260.92,229.80 L260.97,230.30 L261.00,230.50 L261.07,230.80 L261.27,231.30 L261.60,231.80 L262.36,232.30 L263.62,232.80 L263.90,232.90 L265.51,233.30 L267.72,233.80 L268.00,233.90 L268.89,234.30 L269.77,234.80 L270.41,235.30 L270.60,235.50 L270.85,235.80 L271.23,236.30 L271.53,236.80 L271.72,237.30 L271.75,237.60 L271.73,237.80 L271.52,238.30 L271.16,238.80 L270.69,239.30 L270.30,239.70 L270.20,239.80 L269.49,240.30 L268.61,240.80 L267.71,241.30 L267.10,241.70 L266.97,241.80 L266.30,242.30 L265.75,242.80 L265.60,243.00 L265.41,243.30 L265.14,243.80 L265.00,244.30 L265.00,244.40 L265.24,244.80 L265.97,245.30 L266.30,245.50 L266.92,245.80 L268.25,246.30 L268.50,246.40 L269.51,246.80 L270.83,247.30 L272.09,247.80 L273.15,248.30 L273.50,248.50 L273.99,248.80 L274.80,249.30 L275.49,249.80 L275.92,250.30 L276.00,250.60 L275.94,250.80 L275.40,251.30 L274.45,251.80 L273.35,252.30 L272.50,252.70 L272.30,252.80 L271.15,253.30 L269.87,253.80 L268.61,254.30 L267.50,254.80 L266.56,255.30 L265.70,255.80 L264.90,256.30 L264.15,256.80 L264.00,256.90 L263.42,257.30 L262.72,257.80 L262.11,258.30 L262.00,258.40 L261.59,258.80 L261.14,259.30 L261.00,259.50 L260.82,259.80 L260.57,260.30 L260.50,260.50 L260.50,260.50 L260.43,260.30 L260.18,259.80 L260.00,259.50 L259.86,259.30 L259.41,258.80 L259.00,258.40 L258.89,258.30 L258.28,257.80 L257.58,257.30 L257.00,256.90 L256.85,256.80 L256.10,256.30 L255.30,255.80 L254.44,255.30 L253.50,254.80 L252.39,254.30 L251.13,253.80 L249.85,253.30 L248.70,252.80 L248.50,252.70 L247.65,252.30 L246.55,251.80 L245.60,251.30 L245.06,250.80 L245.00,250.60 L245.08,250.30 L245.51,249.80 L246.20,249.30 L247.01,248.80 L247.50,248.50 L247.85,248.30 L248.91,247.80 L250.17,247.30 L251.49,246.80 L252.50,246.40 L252.75,246.30 L254.08,245.80 L254.70,245.50 L255.03,245.30 L255.76,244.80 L256.00,244.40 L256.00,244.30 L255.86,243.80 L255.59,243.30 L255.40,243.00 L255.25,242.80 L254.70,242.30 L254.03,241.80 L253.90,241.70 L253.29,241.30 L252.39,240.80 L251.51,240.30 L250.80,239.80 L250.70,239.70 L250.31,239.30 L249.84,238.80 L249.48,238.30 L249.27,237.80 L249.25,237.60 L249.28,237.30 L249.47,236.80 L249.77,236.30 L250.15,235.80 L250.40,235.50 L250.59,235.30 L251.23,234.80 L252.11,234.30 L253.00,233.90 L253.28,233.80 L255.49,233.30 L257.10,232.90 L257.38,232.80 L258.64,232.30 L259.40,231.80 L259.73,231.30 L259.93,230.80 L260.00,230.50 L260.03,230.30 L260.08,229.80 L260.11,229.30 L260.14,228.80 L260.17,228.30 L260.20,228.00 L260.22,227.80 L260.30,227.30 L260.40,226.80 L260.50,226.30 Z" fill="#A6DDEA" stroke="#4DBBD5" stroke-width="1.0" stroke-linejoin="round"/>
<circle cx="257.07" cy="233.68" r="1.5" fill="#4DBBD5"/><circle cx="259.64" cy="233.34" r="1.5" fill="#4DBBD5"/><circle cx="262.66" cy="233.17" r="1.5" fill="#4DBBD5"/><circle cx="254.7" cy="235.7" r="1.5" fill="#4DBBD5"/><circle cx="257.77" cy="235.85" r="1.5" fill="#4DBBD5"/><circle cx="260.69" cy="235.97" r="1.5" fill="#4DBBD5"/><circle cx="263.41" cy="236.12" r="1.5" fill="#4DBBD5"/><circle cx="266.17" cy="235.96" r="1.5" fill="#4DBBD5"/><circle cx="253.43" cy="238.19" r="1.5" fill="#4DBBD5"/><circle cx="256.11" cy="237.9" r="1.5" fill="#4DBBD5"/><circle cx="259.54" cy="238.51" r="1.5" fill="#4DBBD5"/><circle cx="262.05" cy="238.29" r="1.5" fill="#4DBBD5"/><circle cx="265.4" cy="238.46" r="1.5" fill="#4DBBD5"/><circle cx="255.53" cy="240.09" r="1.5" fill="#4DBBD5"/><circle cx="258.5" cy="240.76" r="1.5" fill="#4DBBD5"/><circle cx="261.34" cy="240.4" r="1.5" fill="#4DBBD5"/><circle cx="264.93" cy="240.49" r="1.5" fill="#4DBBD5"/><circle cx="257.8" cy="242.63" r="1.5" fill="#4DBBD5"/><circle cx="260.7" cy="243.05" r="1.5" fill="#4DBBD5"/><circle cx="258.74" cy="245.3" r="1.5" fill="#4DBBD5"/><circle cx="262.41" cy="245.3" r="1.5" fill="#4DBBD5"/><circle cx="253.32" cy="247.65" r="1.5" fill="#4DBBD5"/><circle cx="256.08" cy="247.38" r="1.5" fill="#4DBBD5"/><circle cx="259.63" cy="247.25" r="1.5" fill="#4DBBD5"/><circle cx="262.03" cy="247.12" r="1.5" fill="#4DBBD5"/><circle cx="264.72" cy="247.56" r="1.5" fill="#4DBBD5"/><circle cx="254.72" cy="249.55" r="1.5" fill="#4DBBD5"/><circle cx="257.84" cy="249.38" r="1.5" fill="#4DBBD5"/><circle cx="260.81" cy="249.46" r="1.5" fill="#4DBBD5"/><circle cx="263.72" cy="249.9" r="1.5" fill="#4DBBD5"/><circle cx="266.23" cy="249.67" r="1.5" fill="#4DBBD5"/><circle cx="253.66" cy="251.99" r="1.5" fill="#4DBBD5"/><circle cx="256.04" cy="252.09" r="1.5" fill="#4DBBD5"/><circle cx="259.43" cy="252.07" r="1.5" fill="#4DBBD5"/><circle cx="262.56" cy="252.13" r="1.5" fill="#4DBBD5"/><circle cx="265.42" cy="251.77" r="1.5" fill="#4DBBD5"/><circle cx="256.16" cy="254.63" r="1.5" fill="#4DBBD5"/><circle cx="259.27" cy="254.11" r="1.5" fill="#4DBBD5"/><circle cx="262.59" cy="254.26" r="1.5" fill="#4DBBD5"/><circle cx="265.35" cy="254.56" r="1.5" fill="#4DBBD5"/><circle cx="259.47" cy="256.8" r="1.5" fill="#4DBBD5"/>
<path d="M417.70,179.00 L417.92,179.50 L418.05,180.00 L418.05,180.50 L418.05,181.00 L418.05,181.50 L418.05,182.00 L418.05,182.50 L418.05,183.00 L418.05,183.50 L418.05,184.00 L418.05,184.50 L418.05,185.00 L418.05,185.50 L418.05,186.00 L418.05,186.50 L418.05,187.00 L418.05,187.50 L418.05,188.00 L418.05,188.50 L418.05,189.00 L418.05,189.50 L418.05,190.00 L418.05,190.50 L418.05,191.00 L418.05,191.50 L418.05,192.00 L418.05,192.50 L418.05,193.00 L418.05,193.50 L418.05,194.00 L418.05,194.50 L418.05,195.00 L418.05,195.50 L418.05,196.00 L418.05,196.50 L418.05,197.00 L418.05,197.50 L418.05,198.00 L418.05,198.50 L418.05,199.00 L418.05,199.50 L418.05,200.00 L418.05,200.50 L418.05,201.00 L418.05,201.50 L418.05,202.00 L418.05,202.50 L418.05,203.00 L418.05,203.50 L418.05,204.00 L418.05,204.50 L418.05,205.00 L418.05,205.50 L418.05,206.00 L418.05,206.50 L418.05,207.00 L418.05,207.50 L418.05,208.00 L418.08,208.50 L418.16,209.00 L418.27,209.50 L418.40,210.00 L418.59,210.50 L418.88,211.00 L419.25,211.50 L419.70,212.00 L420.31,212.50 L421.16,213.00 L422.20,213.50 L423.46,214.00 L425.08,214.50 L427.20,215.00 L430.31,215.50 L433.20,215.80 L436.22,216.00 L443.20,216.30 L452.70,216.50 L455.20,216.60 L443.20,216.90 L440.64,217.00 L433.20,217.40 L431.78,217.50 L426.20,218.00 L421.87,218.50 L421.20,218.60 L418.93,219.00 L417.70,219.30 L417.70,219.30 L416.47,219.00 L414.20,218.60 L413.53,218.50 L409.20,218.00 L403.62,217.50 L402.20,217.40 L394.76,217.00 L392.20,216.90 L380.20,216.60 L382.70,216.50 L392.20,216.30 L399.18,216.00 L402.20,215.80 L405.09,215.50 L408.20,215.00 L410.32,214.50 L411.94,214.00 L413.20,213.50 L414.24,213.00 L415.09,212.50 L415.70,212.00 L416.15,211.50 L416.52,211.00 L416.81,210.50 L417.00,210.00 L417.13,209.50 L417.24,209.00 L417.32,208.50 L417.35,208.00 L417.35,207.50 L417.35,207.00 L417.35,206.50 L417.35,206.00 L417.35,205.50 L417.35,205.00 L417.35,204.50 L417.35,204.00 L417.35,203.50 L417.35,203.00 L417.35,202.50 L417.35,202.00 L417.35,201.50 L417.35,201.00 L417.35,200.50 L417.35,200.00 L417.35,199.50 L417.35,199.00 L417.35,198.50 L417.35,198.00 L417.35,197.50 L417.35,197.00 L417.35,196.50 L417.35,196.00 L417.35,195.50 L417.35,195.00 L417.35,194.50 L417.35,194.00 L417.35,193.50 L417.35,193.00 L417.35,192.50 L417.35,192.00 L417.35,191.50 L417.35,191.00 L417.35,190.50 L417.35,190.00 L417.35,189.50 L417.35,189.00 L417.35,188.50 L417.35,188.00 L417.35,187.50 L417.35,187.00 L417.35,186.50 L417.35,186.00 L417.35,185.50 L417.35,185.00 L417.35,184.50 L417.35,184.00 L417.35,183.50 L417.35,183.00 L417.35,182.50 L417.35,182.00 L417.35,181.50 L417.35,181.00 L417.35,180.50 L417.35,180.00 L417.48,179.50 L417.70,179.00 Z" fill="#F3A59A" stroke="#E64B35" stroke-width="1.0" stroke-linejoin="round"/>
<circle cx="416.8" cy="180.1" r="1.5" fill="#E64B35"/><circle cx="420.7" cy="180.1" r="1.5" fill="#E64B35"/><circle cx="416.8" cy="208.9" r="1.5" fill="#E64B35"/><circle cx="419.8" cy="208.6" r="1.5" fill="#E64B35"/><circle cx="411.5" cy="214.5" r="1.5" fill="#E64B35"/><circle cx="411.5" cy="216.5" r="1.5" fill="#E64B35"/><circle cx="414" cy="214.5" r="1.5" fill="#E64B35"/><circle cx="414" cy="216.5" r="1.5" fill="#E64B35"/><circle cx="416.5" cy="214.5" r="1.5" fill="#E64B35"/><circle cx="416.5" cy="216.5" r="1.5" fill="#E64B35"/><circle cx="419" cy="214.5" r="1.5" fill="#E64B35"/><circle cx="419" cy="216.5" r="1.5" fill="#E64B35"/><circle cx="421.5" cy="214.5" r="1.5" fill="#E64B35"/><circle cx="421.5" cy="216.5" r="1.5" fill="#E64B35"/><circle cx="424" cy="214.5" r="1.5" fill="#E64B35"/><circle cx="424" cy="216.5" r="1.5" fill="#E64B35"/><circle cx="415" cy="212.5" r="1.5" fill="#E64B35"/><circle cx="418" cy="212" r="1.5" fill="#E64B35"/><circle cx="421" cy="213" r="1.5" fill="#E64B35"/>
<path d="M476.50,90.70 L476.64,91.20 L476.77,91.70 L476.80,92.00 L476.80,92.20 L476.81,92.70 L476.81,93.20 L476.81,93.70 L476.81,94.20 L476.82,94.70 L476.82,95.20 L476.82,95.70 L476.83,96.20 L476.83,96.70 L476.83,97.20 L476.83,97.70 L476.83,98.20 L476.84,98.70 L476.84,99.20 L476.84,99.70 L476.84,100.20 L476.84,100.70 L476.84,101.20 L476.84,101.70 L476.85,102.20 L476.85,102.70 L476.85,103.20 L476.85,103.70 L476.85,104.20 L476.85,104.70 L476.85,105.20 L476.85,105.70 L476.85,106.20 L476.85,106.70 L476.85,107.20 L476.85,107.70 L476.85,108.20 L476.85,108.70 L476.85,109.20 L476.85,109.70 L476.85,110.20 L476.85,110.70 L476.85,111.20 L476.85,111.70 L476.85,112.20 L476.85,112.70 L476.85,113.20 L476.85,113.70 L476.86,114.20 L476.86,114.70 L476.86,115.20 L476.86,115.70 L476.86,116.20 L476.86,116.70 L476.86,117.20 L476.86,117.70 L476.86,118.20 L476.86,118.70 L476.86,119.20 L476.86,119.70 L476.86,120.20 L476.86,120.70 L476.86,121.20 L476.86,121.70 L476.87,122.20 L476.87,122.70 L476.87,123.20 L476.87,123.70 L476.87,124.20 L476.87,124.70 L476.88,125.20 L476.88,125.70 L476.88,126.20 L476.88,126.70 L476.88,127.20 L476.89,127.70 L476.89,128.20 L476.89,128.70 L476.89,129.20 L476.90,129.70 L476.90,130.00 L476.90,130.20 L476.92,130.70 L476.95,131.20 L476.99,131.70 L477.04,132.20 L477.10,132.70 L477.15,133.20 L477.20,133.70 L477.25,134.20 L477.28,134.70 L477.30,135.00 L477.31,135.20 L477.33,135.70 L477.35,136.20 L477.38,136.70 L477.40,137.20 L477.42,137.70 L477.44,138.20 L477.46,138.70 L477.48,139.20 L477.50,139.70 L477.51,140.20 L477.53,140.70 L477.54,141.20 L477.56,141.70 L477.57,142.20 L477.58,142.70 L477.59,143.20 L477.59,143.70 L477.60,144.20 L477.60,144.70 L477.60,145.00 L477.60,145.20 L477.59,145.70 L477.58,146.20 L477.56,146.70 L477.54,147.20 L477.51,147.70 L477.49,148.20 L477.46,148.70 L477.44,149.20 L477.41,149.70 L477.40,150.00 L477.39,150.20 L477.37,150.70 L477.35,151.20 L477.32,151.70 L477.30,152.20 L477.27,152.70 L477.24,153.20 L477.22,153.70 L477.19,154.20 L477.17,154.70 L477.14,155.20 L477.12,155.70 L477.09,156.20 L477.07,156.70 L477.05,157.20 L477.04,157.70 L477.02,158.20 L477.01,158.70 L477.00,159.20 L477.00,159.70 L477.00,160.00 L477.00,160.20 L477.00,160.70 L477.00,161.20 L477.00,161.70 L477.00,162.20 L477.00,162.70 L477.00,163.20 L477.00,163.70 L477.00,164.20 L477.00,164.70 L477.00,165.20 L477.00,165.70 L477.00,166.20 L477.00,166.70 L477.00,167.20 L477.00,167.70 L477.00,168.20 L477.00,168.70 L477.00,169.20 L477.00,169.70 L477.00,170.20 L477.00,170.70 L477.00,171.20 L477.00,171.70 L477.00,172.20 L477.00,172.70 L477.00,173.20 L477.00,173.70 L477.00,174.20 L477.00,174.70 L477.00,175.20 L477.00,175.70 L477.00,176.20 L477.00,176.70 L477.00,177.20 L477.00,177.70 L477.00,178.20 L477.00,178.70 L477.00,179.20 L477.00,179.70 L477.00,180.20 L477.00,180.70 L477.00,181.20 L477.00,181.70 L477.00,182.20 L477.00,182.70 L477.00,183.20 L477.00,183.70 L477.00,184.20 L477.00,184.70 L477.00,185.20 L477.00,185.70 L477.00,186.20 L477.00,186.70 L477.00,187.20 L477.00,187.70 L477.00,188.20 L477.00,188.70 L477.00,189.20 L477.00,189.70 L477.00,190.20 L477.00,190.70 L477.00,191.20 L477.00,191.70 L477.00,192.20 L477.00,192.70 L477.00,193.20 L477.00,193.70 L477.00,194.20 L477.00,194.70 L477.00,195.20 L477.00,195.70 L477.00,196.20 L477.00,196.70 L477.00,197.20 L477.00,197.70 L477.00,198.20 L477.00,198.70 L477.00,199.20 L477.00,199.70 L477.00,200.20 L477.00,200.70 L477.00,201.20 L477.00,201.70 L477.00,202.20 L477.00,202.70 L477.00,203.20 L477.00,203.70 L477.00,204.20 L477.00,204.70 L477.00,205.20 L477.00,205.70 L477.00,206.20 L477.00,206.70 L477.00,207.20 L477.00,207.70 L477.00,208.20 L477.00,208.70 L477.00,209.20 L477.00,209.70 L477.00,210.00 L477.00,210.20 L477.02,210.70 L477.06,211.20 L477.12,211.70 L477.17,212.20 L477.23,212.70 L477.27,213.20 L477.30,213.70 L477.30,214.00 L477.30,214.20 L477.27,214.70 L477.22,215.20 L477.15,215.70 L477.08,216.20 L477.01,216.70 L476.95,217.20 L476.91,217.70 L476.90,218.00 L476.90,218.20 L476.88,218.70 L476.87,219.20 L476.86,219.70 L476.85,220.20 L476.84,220.70 L476.83,221.20 L476.82,221.70 L476.81,222.20 L476.80,222.70 L476.79,223.20 L476.79,223.70 L476.78,224.20 L476.77,224.70 L476.76,225.20 L476.75,225.70 L476.74,226.20 L476.73,226.70 L476.73,227.20 L476.72,227.70 L476.71,228.20 L476.70,228.70 L476.70,229.20 L476.69,229.70 L476.68,230.20 L476.68,230.70 L476.67,231.20 L476.66,231.70 L476.66,232.20 L476.65,232.70 L476.64,233.20 L476.64,233.70 L476.63,234.20 L476.63,234.70 L476.62,235.20 L476.62,235.70 L476.61,236.20 L476.61,236.70 L476.60,237.20 L476.60,237.70 L476.59,238.20 L476.59,238.70 L476.58,239.20 L476.58,239.70 L476.57,240.20 L476.57,240.70 L476.57,241.20 L476.56,241.70 L476.56,242.20 L476.56,242.70 L476.55,243.20 L476.55,243.70 L476.55,244.20 L476.54,244.70 L476.54,245.20 L476.54,245.70 L476.53,246.20 L476.53,246.70 L476.53,247.20 L476.53,247.70 L476.52,248.20 L476.52,248.70 L476.52,249.20 L476.52,249.70 L476.52,250.20 L476.52,250.70 L476.51,251.20 L476.51,251.70 L476.51,252.20 L476.51,252.70 L476.51,253.20 L476.51,253.70 L476.51,254.20 L476.51,254.70 L476.50,255.20 L476.50,255.70 L476.50,256.20 L476.50,256.70 L476.50,257.20 L476.50,257.70 L476.50,258.20 L476.50,258.70 L476.50,259.20 L476.50,259.70 L476.50,260.20 L476.50,260.60 L476.50,260.60 L476.50,260.20 L476.50,259.70 L476.50,259.20 L476.50,258.70 L476.50,258.20 L476.50,257.70 L476.50,257.20 L476.50,256.70 L476.50,256.20 L476.50,255.70 L476.50,255.20 L476.49,254.70 L476.49,254.20 L476.49,253.70 L476.49,253.20 L476.49,252.70 L476.49,252.20 L476.49,251.70 L476.49,251.20 L476.48,250.70 L476.48,250.20 L476.48,249.70 L476.48,249.20 L476.48,248.70 L476.48,248.20 L476.47,247.70 L476.47,247.20 L476.47,246.70 L476.47,246.20 L476.46,245.70 L476.46,245.20 L476.46,244.70 L476.45,244.20 L476.45,243.70 L476.45,243.20 L476.44,242.70 L476.44,242.20 L476.44,241.70 L476.43,241.20 L476.43,240.70 L476.43,240.20 L476.42,239.70 L476.42,239.20 L476.41,238.70 L476.41,238.20 L476.40,237.70 L476.40,237.20 L476.39,236.70 L476.39,236.20 L476.38,235.70 L476.38,235.20 L476.37,234.70 L476.37,234.20 L476.36,233.70 L476.36,233.20 L476.35,232.70 L476.34,232.20 L476.34,231.70 L476.33,231.20 L476.32,230.70 L476.32,230.20 L476.31,229.70 L476.30,229.20 L476.30,228.70 L476.29,228.20 L476.28,227.70 L476.27,227.20 L476.27,226.70 L476.26,226.20 L476.25,225.70 L476.24,225.20 L476.23,224.70 L476.22,224.20 L476.21,223.70 L476.21,223.20 L476.20,222.70 L476.19,222.20 L476.18,221.70 L476.17,221.20 L476.16,220.70 L476.15,220.20 L476.14,219.70 L476.13,219.20 L476.12,218.70 L476.10,218.20 L476.10,218.00 L476.09,217.70 L476.05,217.20 L475.99,216.70 L475.92,216.20 L475.85,215.70 L475.78,215.20 L475.73,214.70 L475.70,214.20 L475.70,214.00 L475.70,213.70 L475.73,213.20 L475.77,212.70 L475.83,212.20 L475.88,211.70 L475.94,211.20 L475.98,210.70 L476.00,210.20 L476.00,210.00 L476.00,209.70 L476.00,209.20 L476.00,208.70 L476.00,208.20 L476.00,207.70 L476.00,207.20 L476.00,206.70 L476.00,206.20 L476.00,205.70 L476.00,205.20 L476.00,204.70 L476.00,204.20 L476.00,203.70 L476.00,203.20 L476.00,202.70 L476.00,202.20 L476.00,201.70 L476.00,201.20 L476.00,200.70 L476.00,200.20 L476.00,199.70 L476.00,199.20 L476.00,198.70 L476.00,198.20 L476.00,197.70 L476.00,197.20 L476.00,196.70 L476.00,196.20 L476.00,195.70 L476.00,195.20 L476.00,194.70 L476.00,194.20 L476.00,193.70 L476.00,193.20 L476.00,192.70 L476.00,192.20 L476.00,191.70 L476.00,191.20 L476.00,190.70 L476.00,190.20 L476.00,189.70 L476.00,189.20 L476.00,188.70 L476.00,188.20 L476.00,187.70 L476.00,187.20 L476.00,186.70 L476.00,186.20 L476.00,185.70 L476.00,185.20 L476.00,184.70 L476.00,184.20 L476.00,183.70 L476.00,183.20 L476.00,182.70 L476.00,182.20 L476.00,181.70 L476.00,181.20 L476.00,180.70 L476.00,180.20 L476.00,179.70 L476.00,179.20 L476.00,178.70 L476.00,178.20 L476.00,177.70 L476.00,177.20 L476.00,176.70 L476.00,176.20 L476.00,175.70 L476.00,175.20 L476.00,174.70 L476.00,174.20 L476.00,173.70 L476.00,173.20 L476.00,172.70 L476.00,172.20 L476.00,171.70 L476.00,171.20 L476.00,170.70 L476.00,170.20 L476.00,169.70 L476.00,169.20 L476.00,168.70 L476.00,168.20 L476.00,167.70 L476.00,167.20 L476.00,166.70 L476.00,166.20 L476.00,165.70 L476.00,165.20 L476.00,164.70 L476.00,164.20 L476.00,163.70 L476.00,163.20 L476.00,162.70 L476.00,162.20 L476.00,161.70 L476.00,161.20 L476.00,160.70 L476.00,160.20 L476.00,160.00 L476.00,159.70 L476.00,159.20 L475.99,158.70 L475.98,158.20 L475.96,157.70 L475.95,157.20 L475.93,156.70 L475.91,156.20 L475.88,155.70 L475.86,155.20 L475.83,154.70 L475.81,154.20 L475.78,153.70 L475.76,153.20 L475.73,152.70 L475.70,152.20 L475.68,151.70 L475.65,151.20 L475.63,150.70 L475.61,150.20 L475.60,150.00 L475.59,149.70 L475.56,149.20 L475.54,148.70 L475.51,148.20 L475.49,147.70 L475.46,147.20 L475.44,146.70 L475.42,146.20 L475.41,145.70 L475.40,145.20 L475.40,145.00 L475.40,144.70 L475.40,144.20 L475.41,143.70 L475.41,143.20 L475.42,142.70 L475.43,142.20 L475.44,141.70 L475.46,141.20 L475.47,140.70 L475.49,140.20 L475.50,139.70 L475.52,139.20 L475.54,138.70 L475.56,138.20 L475.58,137.70 L475.60,137.20 L475.62,136.70 L475.65,136.20 L475.67,135.70 L475.69,135.20 L475.70,135.00 L475.72,134.70 L475.75,134.20 L475.80,133.70 L475.85,133.20 L475.90,132.70 L475.96,132.20 L476.01,131.70 L476.05,131.20 L476.08,130.70 L476.10,130.20 L476.10,130.00 L476.10,129.70 L476.11,129.20 L476.11,128.70 L476.11,128.20 L476.11,127.70 L476.12,127.20 L476.12,126.70 L476.12,126.20 L476.12,125.70 L476.12,125.20 L476.13,124.70 L476.13,124.20 L476.13,123.70 L476.13,123.20 L476.13,122.70 L476.13,122.20 L476.14,121.70 L476.14,121.20 L476.14,120.70 L476.14,120.20 L476.14,119.70 L476.14,119.20 L476.14,118.70 L476.14,118.20 L476.14,117.70 L476.14,117.20 L476.14,116.70 L476.14,116.20 L476.14,115.70 L476.14,115.20 L476.14,114.70 L476.14,114.20 L476.15,113.70 L476.15,113.20 L476.15,112.70 L476.15,112.20 L476.15,111.70 L476.15,111.20 L476.15,110.70 L476.15,110.20 L476.15,109.70 L476.15,109.20 L476.15,108.70 L476.15,108.20 L476.15,107.70 L476.15,107.20 L476.15,106.70 L476.15,106.20 L476.15,105.70 L476.15,105.20 L476.15,104.70 L476.15,104.20 L476.15,103.70 L476.15,103.20 L476.15,102.70 L476.15,102.20 L476.16,101.70 L476.16,101.20 L476.16,100.70 L476.16,100.20 L476.16,99.70 L476.16,99.20 L476.16,98.70 L476.17,98.20 L476.17,97.70 L476.17,97.20 L476.17,96.70 L476.17,96.20 L476.18,95.70 L476.18,95.20 L476.18,94.70 L476.19,94.20 L476.19,93.70 L476.19,93.20 L476.19,92.70 L476.20,92.20 L476.20,92.00 L476.23,91.70 L476.36,91.20 L476.50,90.70 Z" fill="#A6DDEA" stroke="#4DBBD5" stroke-width="1.0" stroke-linejoin="round"/>
<circle cx="470.5" cy="139.3" r="1.5" fill="#4DBBD5"/><circle cx="475.4" cy="135" r="1.5" fill="#4DBBD5"/><circle cx="475.1" cy="138.4" r="1.5" fill="#4DBBD5"/><circle cx="471.5" cy="149.2" r="1.5" fill="#4DBBD5"/><circle cx="473.5" cy="149.2" r="1.5" fill="#4DBBD5"/><circle cx="476" cy="149.2" r="1.5" fill="#4DBBD5"/><circle cx="473.1" cy="146.9" r="1.5" fill="#4DBBD5"/><circle cx="480.3" cy="153.7" r="1.5" fill="#4DBBD5"/><circle cx="475.1" cy="162.8" r="1.5" fill="#4DBBD5"/><circle cx="470.5" cy="168" r="1.5" fill="#4DBBD5"/><circle cx="479.1" cy="181.4" r="1.5" fill="#4DBBD5"/><circle cx="480.3" cy="200" r="1.5" fill="#4DBBD5"/><circle cx="473.5" cy="203.4" r="1.5" fill="#4DBBD5"/><circle cx="472.1" cy="206.7" r="1.5" fill="#4DBBD5"/><circle cx="476.3" cy="212" r="1.5" fill="#4DBBD5"/><circle cx="476.1" cy="212.3" r="1.5" fill="#4DBBD5"/><circle cx="475" cy="216.3" r="1.5" fill="#4DBBD5"/>
<path d="M564.60,161.30 L564.70,161.80 L564.79,162.30 L564.87,162.80 L564.90,163.00 L564.94,163.30 L564.98,163.80 L565.02,164.30 L565.06,164.80 L565.10,165.30 L565.17,165.80 L565.20,166.00 L565.27,166.30 L565.43,166.80 L565.67,167.30 L565.97,167.80 L566.10,168.00 L566.36,168.30 L567.00,168.80 L567.78,169.30 L568.10,169.50 L568.67,169.80 L569.83,170.30 L570.84,170.80 L571.10,171.00 L571.40,171.30 L571.82,171.80 L572.07,172.30 L572.10,172.50 L571.93,172.80 L571.15,173.30 L570.31,173.80 L570.10,174.00 L569.88,174.30 L569.53,174.80 L569.26,175.30 L569.11,175.80 L569.10,176.00 L569.12,176.30 L569.20,176.80 L569.35,177.30 L569.53,177.80 L569.71,178.30 L569.88,178.80 L570.02,179.30 L570.09,179.80 L570.10,180.00 L570.09,180.30 L570.05,180.80 L569.98,181.30 L569.89,181.80 L569.78,182.30 L569.65,182.80 L569.60,183.00 L569.49,183.30 L569.21,183.80 L568.84,184.30 L568.44,184.80 L568.04,185.30 L567.71,185.80 L567.60,186.00 L567.45,186.30 L567.21,186.80 L566.97,187.30 L566.74,187.80 L566.54,188.30 L566.36,188.80 L566.22,189.30 L566.12,189.80 L566.10,190.00 L566.07,190.30 L566.02,190.80 L565.98,191.30 L565.94,191.80 L565.90,192.30 L565.86,192.80 L565.83,193.30 L565.79,193.80 L565.76,194.30 L565.74,194.80 L565.71,195.30 L565.69,195.80 L565.67,196.30 L565.65,196.80 L565.64,197.30 L565.62,197.80 L565.61,198.30 L565.61,198.80 L565.60,199.30 L565.60,199.80 L565.60,200.00 L565.60,200.30 L565.60,200.80 L565.60,201.30 L565.60,201.80 L565.60,202.30 L565.60,202.80 L565.60,203.30 L565.60,203.80 L565.60,204.30 L565.60,204.80 L565.60,205.30 L565.60,205.80 L565.60,206.30 L565.60,206.80 L565.60,207.30 L565.60,207.80 L565.60,208.30 L565.60,208.80 L565.60,209.30 L565.60,209.80 L565.60,210.00 L565.60,210.30 L565.62,210.80 L565.66,211.30 L565.71,211.80 L565.76,212.30 L565.83,212.80 L565.89,213.30 L565.95,213.80 L566.00,214.30 L566.05,214.80 L566.08,215.30 L566.10,215.80 L566.10,216.00 L566.08,216.30 L565.96,216.80 L565.79,217.30 L565.64,217.80 L565.60,218.00 L565.55,218.30 L565.47,218.80 L565.41,219.30 L565.34,219.80 L565.29,220.30 L565.23,220.80 L565.18,221.30 L565.12,221.80 L565.10,222.00 L565.07,222.30 L565.01,222.80 L564.95,223.30 L564.90,223.80 L564.85,224.30 L564.80,224.80 L564.75,225.30 L564.70,225.80 L564.65,226.30 L564.60,226.80 L564.60,226.80 L564.55,226.30 L564.50,225.80 L564.45,225.30 L564.40,224.80 L564.35,224.30 L564.30,223.80 L564.25,223.30 L564.19,222.80 L564.13,222.30 L564.10,222.00 L564.08,221.80 L564.02,221.30 L563.97,220.80 L563.91,220.30 L563.86,219.80 L563.79,219.30 L563.73,218.80 L563.65,218.30 L563.60,218.00 L563.56,217.80 L563.41,217.30 L563.24,216.80 L563.12,216.30 L563.10,216.00 L563.10,215.80 L563.12,215.30 L563.15,214.80 L563.20,214.30 L563.25,213.80 L563.31,213.30 L563.37,212.80 L563.44,212.30 L563.49,211.80 L563.54,211.30 L563.58,210.80 L563.60,210.30 L563.60,210.00 L563.60,209.80 L563.60,209.30 L563.60,208.80 L563.60,208.30 L563.60,207.80 L563.60,207.30 L563.60,206.80 L563.60,206.30 L563.60,205.80 L563.60,205.30 L563.60,204.80 L563.60,204.30 L563.60,203.80 L563.60,203.30 L563.60,202.80 L563.60,202.30 L563.60,201.80 L563.60,201.30 L563.60,200.80 L563.60,200.30 L563.60,200.00 L563.60,199.80 L563.60,199.30 L563.59,198.80 L563.59,198.30 L563.58,197.80 L563.56,197.30 L563.55,196.80 L563.53,196.30 L563.51,195.80 L563.49,195.30 L563.46,194.80 L563.44,194.30 L563.41,193.80 L563.37,193.30 L563.34,192.80 L563.30,192.30 L563.26,191.80 L563.22,191.30 L563.18,190.80 L563.13,190.30 L563.10,190.00 L563.08,189.80 L562.98,189.30 L562.84,188.80 L562.66,188.30 L562.46,187.80 L562.23,187.30 L561.99,186.80 L561.75,186.30 L561.60,186.00 L561.49,185.80 L561.16,185.30 L560.76,184.80 L560.36,184.30 L559.99,183.80 L559.71,183.30 L559.60,183.00 L559.55,182.80 L559.42,182.30 L559.31,181.80 L559.22,181.30 L559.15,180.80 L559.11,180.30 L559.10,180.00 L559.11,179.80 L559.18,179.30 L559.32,178.80 L559.49,178.30 L559.67,177.80 L559.85,177.30 L560.00,176.80 L560.08,176.30 L560.10,176.00 L560.09,175.80 L559.94,175.30 L559.67,174.80 L559.32,174.30 L559.10,174.00 L558.89,173.80 L558.05,173.30 L557.27,172.80 L557.10,172.50 L557.13,172.30 L557.38,171.80 L557.80,171.30 L558.10,171.00 L558.36,170.80 L559.37,170.30 L560.53,169.80 L561.10,169.50 L561.42,169.30 L562.20,168.80 L562.84,168.30 L563.10,168.00 L563.23,167.80 L563.53,167.30 L563.77,166.80 L563.93,166.30 L564.00,166.00 L564.03,165.80 L564.10,165.30 L564.14,164.80 L564.18,164.30 L564.22,163.80 L564.26,163.30 L564.30,163.00 L564.33,162.80 L564.41,162.30 L564.50,161.80 L564.60,161.30 Z" fill="#F3A59A" stroke="#E64B35" stroke-width="1.0" stroke-linejoin="round"/>
<circle cx="557.5" cy="171.3" r="1.5" fill="#E64B35"/><circle cx="559.64" cy="171.3" r="1.5" fill="#E64B35"/><circle cx="561.79" cy="171.3" r="1.5" fill="#E64B35"/><circle cx="563.93" cy="171.3" r="1.5" fill="#E64B35"/><circle cx="566.07" cy="171.3" r="1.5" fill="#E64B35"/><circle cx="568.21" cy="171.3" r="1.5" fill="#E64B35"/><circle cx="570.36" cy="171.3" r="1.5" fill="#E64B35"/><circle cx="572.5" cy="171.3" r="1.5" fill="#E64B35"/><circle cx="558.0" cy="172.7" r="1.5" fill="#E64B35"/><circle cx="560.0" cy="172.7" r="1.5" fill="#E64B35"/><circle cx="562.0" cy="172.7" r="1.5" fill="#E64B35"/><circle cx="564.0" cy="172.7" r="1.5" fill="#E64B35"/><circle cx="566.0" cy="172.7" r="1.5" fill="#E64B35"/><circle cx="568.0" cy="172.7" r="1.5" fill="#E64B35"/><circle cx="570.0" cy="172.7" r="1.5" fill="#E64B35"/><circle cx="572.0" cy="172.7" r="1.5" fill="#E64B35"/><circle cx="561.0" cy="175.2" r="1.5" fill="#E64B35"/><circle cx="563.33" cy="175.2" r="1.5" fill="#E64B35"/><circle cx="565.67" cy="175.2" r="1.5" fill="#E64B35"/><circle cx="568.0" cy="175.2" r="1.5" fill="#E64B35"/><circle cx="557.5" cy="177.3" r="1.5" fill="#E64B35"/><circle cx="559.5" cy="177.3" r="1.5" fill="#E64B35"/><circle cx="561.5" cy="177.3" r="1.5" fill="#E64B35"/><circle cx="563.5" cy="177.3" r="1.5" fill="#E64B35"/><circle cx="565.5" cy="177.3" r="1.5" fill="#E64B35"/><circle cx="567.5" cy="177.3" r="1.5" fill="#E64B35"/><circle cx="569.5" cy="177.3" r="1.5" fill="#E64B35"/><circle cx="571.5" cy="177.3" r="1.5" fill="#E64B35"/><circle cx="557.5" cy="179" r="1.5" fill="#E64B35"/><circle cx="559.5" cy="179" r="1.5" fill="#E64B35"/><circle cx="561.5" cy="179" r="1.5" fill="#E64B35"/><circle cx="563.5" cy="179" r="1.5" fill="#E64B35"/><circle cx="565.5" cy="179" r="1.5" fill="#E64B35"/><circle cx="567.5" cy="179" r="1.5" fill="#E64B35"/><circle cx="569.5" cy="179" r="1.5" fill="#E64B35"/><circle cx="571.5" cy="179" r="1.5" fill="#E64B35"/><circle cx="560.5" cy="180.6" r="1.5" fill="#E64B35"/><circle cx="562.8" cy="180.6" r="1.5" fill="#E64B35"/><circle cx="565.1" cy="180.6" r="1.5" fill="#E64B35"/><circle cx="567.4" cy="180.6" r="1.5" fill="#E64B35"/><circle cx="569.7" cy="180.6" r="1.5" fill="#E64B35"/><circle cx="572.0" cy="180.6" r="1.5" fill="#E64B35"/><circle cx="561.5" cy="182.6" r="1.5" fill="#E64B35"/><circle cx="563.75" cy="182.6" r="1.5" fill="#E64B35"/><circle cx="566.0" cy="182.6" r="1.5" fill="#E64B35"/><circle cx="568.25" cy="182.6" r="1.5" fill="#E64B35"/><circle cx="570.5" cy="182.6" r="1.5" fill="#E64B35"/><circle cx="561.5" cy="184.4" r="1.5" fill="#E64B35"/><circle cx="563.75" cy="184.4" r="1.5" fill="#E64B35"/><circle cx="566.0" cy="184.4" r="1.5" fill="#E64B35"/><circle cx="568.25" cy="184.4" r="1.5" fill="#E64B35"/><circle cx="570.5" cy="184.4" r="1.5" fill="#E64B35"/><circle cx="562.0" cy="186.2" r="1.5" fill="#E64B35"/><circle cx="564.5" cy="186.2" r="1.5" fill="#E64B35"/><circle cx="567.0" cy="186.2" r="1.5" fill="#E64B35"/><circle cx="569.5" cy="186.2" r="1.5" fill="#E64B35"/><circle cx="562.5" cy="188" r="1.5" fill="#E64B35"/><circle cx="564.75" cy="188" r="1.5" fill="#E64B35"/><circle cx="567.0" cy="188" r="1.5" fill="#E64B35"/><circle cx="558" cy="183.1" r="1.5" fill="#E64B35"/><circle cx="562.8" cy="187" r="1.5" fill="#E64B35"/><circle cx="566" cy="189.4" r="1.5" fill="#E64B35"/><circle cx="557" cy="192.3" r="1.5" fill="#E64B35"/><circle cx="561.5" cy="191" r="1.5" fill="#E64B35"/><circle cx="560.7" cy="195.2" r="1.5" fill="#E64B35"/><circle cx="559.9" cy="199.3" r="1.5" fill="#E64B35"/><circle cx="558.7" cy="201.8" r="1.5" fill="#E64B35"/><circle cx="566.5" cy="203" r="1.5" fill="#E64B35"/><circle cx="570.6" cy="203.8" r="1.5" fill="#E64B35"/><circle cx="557.4" cy="206.3" r="1.5" fill="#E64B35"/><circle cx="560.7" cy="206.7" r="1.5" fill="#E64B35"/><circle cx="570.2" cy="206.7" r="1.5" fill="#E64B35"/><circle cx="557.8" cy="211.3" r="1.5" fill="#E64B35"/><circle cx="557.8" cy="212" r="1.5" fill="#E64B35"/><circle cx="557.8" cy="214.5" r="1.5" fill="#E64B35"/><circle cx="559.9" cy="217" r="1.5" fill="#E64B35"/><circle cx="563.6" cy="216.5" r="1.5" fill="#E64B35"/><circle cx="566" cy="216.1" r="1.5" fill="#E64B35"/><circle cx="568.5" cy="216.1" r="1.5" fill="#E64B35"/><circle cx="570.6" cy="213.2" r="1.5" fill="#E64B35"/><circle cx="564" cy="200" r="1.5" fill="#E64B35"/><circle cx="563" cy="193" r="1.5" fill="#E64B35"/><circle cx="561" cy="197" r="1.5" fill="#E64B35"/><circle cx="561.5" cy="188.5" r="1.5" fill="#E64B35"/><circle cx="561" cy="193" r="1.5" fill="#E64B35"/><circle cx="560.2" cy="197.2" r="1.5" fill="#E64B35"/><circle cx="559.5" cy="201" r="1.5" fill="#E64B35"/><circle cx="558.5" cy="203.5" r="1.5" fill="#E64B35"/><circle cx="566.5" cy="205" r="1.5" fill="#E64B35"/><circle cx="568.5" cy="204.5" r="1.5" fill="#E64B35"/><circle cx="564.5" cy="190" r="1.5" fill="#E64B35"/><circle cx="563" cy="191.5" r="1.5" fill="#E64B35"/><circle cx="559" cy="208.5" r="1.5" fill="#E64B35"/><circle cx="557.6" cy="209.5" r="1.5" fill="#E64B35"/>
<path d="M623.30,54.60 L623.41,55.10 L623.52,55.60 L623.55,56.00 L623.55,56.10 L623.55,56.60 L623.55,57.10 L623.55,57.60 L623.55,58.10 L623.55,58.60 L623.55,59.10 L623.55,59.60 L623.55,60.10 L623.55,60.60 L623.55,61.10 L623.55,61.60 L623.55,62.10 L623.55,62.60 L623.55,63.10 L623.55,63.60 L623.55,64.10 L623.55,64.60 L623.55,65.10 L623.55,65.60 L623.55,66.10 L623.55,66.60 L623.55,67.10 L623.55,67.60 L623.55,68.10 L623.55,68.60 L623.55,69.10 L623.55,69.60 L623.55,70.10 L623.55,70.60 L623.55,71.10 L623.55,71.60 L623.55,72.10 L623.55,72.60 L623.55,73.10 L623.55,73.60 L623.55,74.10 L623.55,74.60 L623.55,75.10 L623.55,75.60 L623.55,76.10 L623.55,76.60 L623.55,77.10 L623.55,77.60 L623.55,78.10 L623.55,78.60 L623.55,79.10 L623.55,79.60 L623.55,80.10 L623.55,80.60 L623.55,81.10 L623.55,81.60 L623.55,82.10 L623.55,82.60 L623.55,83.10 L623.55,83.60 L623.55,84.10 L623.55,84.60 L623.55,85.10 L623.55,85.60 L623.55,86.10 L623.55,86.60 L623.55,87.10 L623.55,87.60 L623.55,88.10 L623.55,88.60 L623.55,89.10 L623.55,89.60 L623.55,90.10 L623.55,90.60 L623.55,91.10 L623.55,91.60 L623.55,92.10 L623.55,92.60 L623.55,93.10 L623.55,93.60 L623.55,94.10 L623.55,94.60 L623.55,95.10 L623.55,95.60 L623.55,96.10 L623.55,96.60 L623.55,97.10 L623.55,97.60 L623.55,98.10 L623.55,98.60 L623.55,99.10 L623.55,99.60 L623.55,100.10 L623.55,100.60 L623.55,101.10 L623.55,101.60 L623.55,102.10 L623.55,102.60 L623.55,103.10 L623.55,103.60 L623.55,104.10 L623.55,104.60 L623.55,105.10 L623.55,105.60 L623.55,106.10 L623.55,106.60 L623.55,107.10 L623.55,107.60 L623.55,108.10 L623.55,108.60 L623.55,109.10 L623.55,109.60 L623.55,110.10 L623.55,110.60 L623.55,111.10 L623.55,111.60 L623.55,112.10 L623.55,112.60 L623.55,113.10 L623.55,113.60 L623.55,114.10 L623.55,114.60 L623.55,115.10 L623.55,115.60 L623.55,116.10 L623.55,116.60 L623.55,117.10 L623.55,117.60 L623.55,118.10 L623.55,118.60 L623.55,119.10 L623.55,119.60 L623.55,120.10 L623.55,120.60 L623.55,121.10 L623.55,121.60 L623.55,122.10 L623.55,122.60 L623.55,123.10 L623.55,123.60 L623.55,124.10 L623.55,124.60 L623.55,125.10 L623.55,125.60 L623.55,126.10 L623.55,126.60 L623.55,127.10 L623.55,127.60 L623.55,128.00 L623.55,128.10 L623.58,128.60 L623.64,129.10 L623.72,129.60 L623.80,130.00 L623.82,130.10 L623.97,130.60 L624.23,131.10 L624.30,131.20 L624.91,131.60 L626.36,132.10 L627.80,132.50 L628.24,132.60 L631.69,133.10 L634.60,133.60 L634.80,133.70 L635.16,134.10 L635.30,134.50 L635.24,134.60 L633.57,135.10 L631.80,135.50 L631.41,135.60 L629.27,136.10 L627.80,136.50 L627.51,136.60 L626.18,137.10 L625.30,137.60 L624.78,138.10 L624.41,138.60 L624.30,139.00 L624.30,139.10 L624.30,139.60 L624.30,140.10 L624.30,140.60 L624.30,141.00 L624.30,141.10 L624.30,141.60 L624.30,142.10 L624.30,142.60 L624.30,143.10 L624.30,143.60 L624.30,144.00 L624.30,144.10 L624.29,144.60 L624.27,145.10 L624.23,145.60 L624.19,146.10 L624.14,146.60 L624.09,147.10 L624.03,147.60 L623.97,148.10 L623.92,148.60 L623.87,149.10 L623.83,149.60 L623.80,150.00 L623.79,150.10 L623.76,150.60 L623.73,151.10 L623.69,151.60 L623.66,152.10 L623.63,152.60 L623.60,153.10 L623.58,153.60 L623.56,154.10 L623.55,154.60 L623.55,155.00 L623.55,155.10 L623.55,155.60 L623.55,156.10 L623.55,156.60 L623.55,157.10 L623.55,157.60 L623.55,158.10 L623.55,158.60 L623.55,159.10 L623.55,159.60 L623.55,160.10 L623.55,160.60 L623.55,161.10 L623.55,161.60 L623.55,162.10 L623.55,162.60 L623.55,163.10 L623.55,163.60 L623.55,164.10 L623.55,164.60 L623.55,165.10 L623.55,165.60 L623.55,166.10 L623.55,166.60 L623.55,167.10 L623.55,167.60 L623.55,168.10 L623.55,168.60 L623.55,169.10 L623.55,169.60 L623.55,170.10 L623.55,170.60 L623.55,171.10 L623.55,171.60 L623.55,172.10 L623.55,172.60 L623.55,173.10 L623.55,173.60 L623.55,174.10 L623.55,174.60 L623.55,175.10 L623.55,175.60 L623.55,176.10 L623.55,176.60 L623.55,177.10 L623.55,177.60 L623.55,178.10 L623.55,178.60 L623.55,179.10 L623.55,179.60 L623.55,180.10 L623.55,180.60 L623.55,181.10 L623.55,181.60 L623.55,182.10 L623.55,182.60 L623.55,183.10 L623.55,183.60 L623.55,184.10 L623.55,184.60 L623.55,185.10 L623.55,185.60 L623.55,186.10 L623.55,186.60 L623.55,187.10 L623.55,187.60 L623.55,188.10 L623.55,188.60 L623.55,189.10 L623.55,189.60 L623.55,190.10 L623.55,190.60 L623.55,191.10 L623.55,191.60 L623.55,192.10 L623.55,192.60 L623.55,193.10 L623.55,193.60 L623.55,194.10 L623.55,194.60 L623.55,195.10 L623.55,195.60 L623.55,196.10 L623.55,196.60 L623.55,197.10 L623.55,197.60 L623.55,198.10 L623.55,198.60 L623.55,199.10 L623.55,199.60 L623.55,200.10 L623.55,200.60 L623.55,201.10 L623.55,201.60 L623.55,202.10 L623.55,202.60 L623.55,203.10 L623.55,203.60 L623.55,204.10 L623.55,204.60 L623.55,205.10 L623.55,205.60 L623.55,206.10 L623.55,206.60 L623.55,207.10 L623.55,207.60 L623.55,208.10 L623.55,208.60 L623.55,209.10 L623.55,209.60 L623.55,210.10 L623.55,210.60 L623.55,211.10 L623.55,211.60 L623.55,212.10 L623.55,212.60 L623.55,213.10 L623.55,213.60 L623.55,214.10 L623.55,214.60 L623.55,215.00 L623.55,215.10 L623.54,215.60 L623.53,216.10 L623.51,216.60 L623.49,217.10 L623.46,217.60 L623.43,218.10 L623.40,218.60 L623.36,219.10 L623.33,219.60 L623.31,220.10 L623.30,220.20 L623.30,220.20 L623.29,220.10 L623.27,219.60 L623.24,219.10 L623.20,218.60 L623.17,218.10 L623.14,217.60 L623.11,217.10 L623.09,216.60 L623.07,216.10 L623.06,215.60 L623.05,215.10 L623.05,215.00 L623.05,214.60 L623.05,214.10 L623.05,213.60 L623.05,213.10 L623.05,212.60 L623.05,212.10 L623.05,211.60 L623.05,211.10 L623.05,210.60 L623.05,210.10 L623.05,209.60 L623.05,209.10 L623.05,208.60 L623.05,208.10 L623.05,207.60 L623.05,207.10 L623.05,206.60 L623.05,206.10 L623.05,205.60 L623.05,205.10 L623.05,204.60 L623.05,204.10 L623.05,203.60 L623.05,203.10 L623.05,202.60 L623.05,202.10 L623.05,201.60 L623.05,201.10 L623.05,200.60 L623.05,200.10 L623.05,199.60 L623.05,199.10 L623.05,198.60 L623.05,198.10 L623.05,197.60 L623.05,197.10 L623.05,196.60 L623.05,196.10 L623.05,195.60 L623.05,195.10 L623.05,194.60 L623.05,194.10 L623.05,193.60 L623.05,193.10 L623.05,192.60 L623.05,192.10 L623.05,191.60 L623.05,191.10 L623.05,190.60 L623.05,190.10 L623.05,189.60 L623.05,189.10 L623.05,188.60 L623.05,188.10 L623.05,187.60 L623.05,187.10 L623.05,186.60 L623.05,186.10 L623.05,185.60 L623.05,185.10 L623.05,184.60 L623.05,184.10 L623.05,183.60 L623.05,183.10 L623.05,182.60 L623.05,182.10 L623.05,181.60 L623.05,181.10 L623.05,180.60 L623.05,180.10 L623.05,179.60 L623.05,179.10 L623.05,178.60 L623.05,178.10 L623.05,177.60 L623.05,177.10 L623.05,176.60 L623.05,176.10 L623.05,175.60 L623.05,175.10 L623.05,174.60 L623.05,174.10 L623.05,173.60 L623.05,173.10 L623.05,172.60 L623.05,172.10 L623.05,171.60 L623.05,171.10 L623.05,170.60 L623.05,170.10 L623.05,169.60 L623.05,169.10 L623.05,168.60 L623.05,168.10 L623.05,167.60 L623.05,167.10 L623.05,166.60 L623.05,166.10 L623.05,165.60 L623.05,165.10 L623.05,164.60 L623.05,164.10 L623.05,163.60 L623.05,163.10 L623.05,162.60 L623.05,162.10 L623.05,161.60 L623.05,161.10 L623.05,160.60 L623.05,160.10 L623.05,159.60 L623.05,159.10 L623.05,158.60 L623.05,158.10 L623.05,157.60 L623.05,157.10 L623.05,156.60 L623.05,156.10 L623.05,155.60 L623.05,155.10 L623.05,155.00 L623.05,154.60 L623.04,154.10 L623.02,153.60 L623.00,153.10 L622.97,152.60 L622.94,152.10 L622.91,151.60 L622.87,151.10 L622.84,150.60 L622.81,150.10 L622.80,150.00 L622.77,149.60 L622.73,149.10 L622.68,148.60 L622.63,148.10 L622.57,147.60 L622.51,147.10 L622.46,146.60 L622.41,146.10 L622.37,145.60 L622.33,145.10 L622.31,144.60 L622.30,144.10 L622.30,144.00 L622.30,143.60 L622.30,143.10 L622.30,142.60 L622.30,142.10 L622.30,141.60 L622.30,141.10 L622.30,141.00 L622.30,140.60 L622.30,140.10 L622.30,139.60 L622.30,139.10 L622.30,139.00 L622.19,138.60 L621.82,138.10 L621.30,137.60 L620.42,137.10 L619.09,136.60 L618.80,136.50 L617.33,136.10 L615.19,135.60 L614.80,135.50 L613.03,135.10 L611.36,134.60 L611.30,134.50 L611.44,134.10 L611.80,133.70 L612.00,133.60 L614.91,133.10 L618.36,132.60 L618.80,132.50 L620.24,132.10 L621.69,131.60 L622.30,131.20 L622.37,131.10 L622.63,130.60 L622.78,130.10 L622.80,130.00 L622.88,129.60 L622.96,129.10 L623.02,128.60 L623.05,128.10 L623.05,128.00 L623.05,127.60 L623.05,127.10 L623.05,126.60 L623.05,126.10 L623.05,125.60 L623.05,125.10 L623.05,124.60 L623.05,124.10 L623.05,123.60 L623.05,123.10 L623.05,122.60 L623.05,122.10 L623.05,121.60 L623.05,121.10 L623.05,120.60 L623.05,120.10 L623.05,119.60 L623.05,119.10 L623.05,118.60 L623.05,118.10 L623.05,117.60 L623.05,117.10 L623.05,116.60 L623.05,116.10 L623.05,115.60 L623.05,115.10 L623.05,114.60 L623.05,114.10 L623.05,113.60 L623.05,113.10 L623.05,112.60 L623.05,112.10 L623.05,111.60 L623.05,111.10 L623.05,110.60 L623.05,110.10 L623.05,109.60 L623.05,109.10 L623.05,108.60 L623.05,108.10 L623.05,107.60 L623.05,107.10 L623.05,106.60 L623.05,106.10 L623.05,105.60 L623.05,105.10 L623.05,104.60 L623.05,104.10 L623.05,103.60 L623.05,103.10 L623.05,102.60 L623.05,102.10 L623.05,101.60 L623.05,101.10 L623.05,100.60 L623.05,100.10 L623.05,99.60 L623.05,99.10 L623.05,98.60 L623.05,98.10 L623.05,97.60 L623.05,97.10 L623.05,96.60 L623.05,96.10 L623.05,95.60 L623.05,95.10 L623.05,94.60 L623.05,94.10 L623.05,93.60 L623.05,93.10 L623.05,92.60 L623.05,92.10 L623.05,91.60 L623.05,91.10 L623.05,90.60 L623.05,90.10 L623.05,89.60 L623.05,89.10 L623.05,88.60 L623.05,88.10 L623.05,87.60 L623.05,87.10 L623.05,86.60 L623.05,86.10 L623.05,85.60 L623.05,85.10 L623.05,84.60 L623.05,84.10 L623.05,83.60 L623.05,83.10 L623.05,82.60 L623.05,82.10 L623.05,81.60 L623.05,81.10 L623.05,80.60 L623.05,80.10 L623.05,79.60 L623.05,79.10 L623.05,78.60 L623.05,78.10 L623.05,77.60 L623.05,77.10 L623.05,76.60 L623.05,76.10 L623.05,75.60 L623.05,75.10 L623.05,74.60 L623.05,74.10 L623.05,73.60 L623.05,73.10 L623.05,72.60 L623.05,72.10 L623.05,71.60 L623.05,71.10 L623.05,70.60 L623.05,70.10 L623.05,69.60 L623.05,69.10 L623.05,68.60 L623.05,68.10 L623.05,67.60 L623.05,67.10 L623.05,66.60 L623.05,66.10 L623.05,65.60 L623.05,65.10 L623.05,64.60 L623.05,64.10 L623.05,63.60 L623.05,63.10 L623.05,62.60 L623.05,62.10 L623.05,61.60 L623.05,61.10 L623.05,60.60 L623.05,60.10 L623.05,59.60 L623.05,59.10 L623.05,58.60 L623.05,58.10 L623.05,57.60 L623.05,57.10 L623.05,56.60 L623.05,56.10 L623.05,56.00 L623.08,55.60 L623.19,55.10 L623.30,54.60 Z" fill="#A6DDEA" stroke="#4DBBD5" stroke-width="1.0" stroke-linejoin="round"/>
<circle cx="623.3" cy="132.3" r="1.5" fill="#4DBBD5"/><circle cx="621" cy="133" r="1.5" fill="#4DBBD5"/><circle cx="625.6" cy="133" r="1.5" fill="#4DBBD5"/><circle cx="615.5" cy="134.3" r="1.5" fill="#4DBBD5"/><circle cx="617.5" cy="134.3" r="1.5" fill="#4DBBD5"/><circle cx="619.5" cy="134.3" r="1.5" fill="#4DBBD5"/><circle cx="621.5" cy="134.3" r="1.5" fill="#4DBBD5"/><circle cx="623.5" cy="134.3" r="1.5" fill="#4DBBD5"/><circle cx="625.5" cy="134.3" r="1.5" fill="#4DBBD5"/><circle cx="627.5" cy="134.3" r="1.5" fill="#4DBBD5"/><circle cx="629.5" cy="134.3" r="1.5" fill="#4DBBD5"/><circle cx="631.2" cy="134.3" r="1.5" fill="#4DBBD5"/><circle cx="617" cy="135.8" r="1.5" fill="#4DBBD5"/><circle cx="619" cy="135.8" r="1.5" fill="#4DBBD5"/><circle cx="621" cy="135.8" r="1.5" fill="#4DBBD5"/><circle cx="623" cy="135.8" r="1.5" fill="#4DBBD5"/><circle cx="625" cy="135.8" r="1.5" fill="#4DBBD5"/><circle cx="627" cy="135.8" r="1.5" fill="#4DBBD5"/><circle cx="629" cy="135.8" r="1.5" fill="#4DBBD5"/><circle cx="620" cy="138.5" r="1.5" fill="#4DBBD5"/><circle cx="622.3" cy="138.7" r="1.5" fill="#4DBBD5"/><circle cx="624.4" cy="139" r="1.5" fill="#4DBBD5"/><circle cx="627.3" cy="138.4" r="1.5" fill="#4DBBD5"/><circle cx="628.5" cy="139.5" r="1.5" fill="#4DBBD5"/><circle cx="616.4" cy="140.5" r="1.5" fill="#4DBBD5"/><circle cx="628.9" cy="140.8" r="1.5" fill="#4DBBD5"/><circle cx="620.5" cy="140.8" r="1.5" fill="#4DBBD5"/><circle cx="616.5" cy="145" r="1.5" fill="#4DBBD5"/><circle cx="616.5" cy="146.2" r="1.5" fill="#4DBBD5"/><circle cx="618.5" cy="145" r="1.5" fill="#4DBBD5"/><circle cx="618.5" cy="146.2" r="1.5" fill="#4DBBD5"/><circle cx="620.5" cy="145" r="1.5" fill="#4DBBD5"/><circle cx="620.5" cy="146.2" r="1.5" fill="#4DBBD5"/><circle cx="622.5" cy="145" r="1.5" fill="#4DBBD5"/><circle cx="622.5" cy="146.2" r="1.5" fill="#4DBBD5"/><circle cx="624.5" cy="145" r="1.5" fill="#4DBBD5"/><circle cx="624.5" cy="146.2" r="1.5" fill="#4DBBD5"/><circle cx="626.5" cy="145" r="1.5" fill="#4DBBD5"/><circle cx="626.5" cy="146.2" r="1.5" fill="#4DBBD5"/><circle cx="628.3" cy="145" r="1.5" fill="#4DBBD5"/><circle cx="628.3" cy="146.2" r="1.5" fill="#4DBBD5"/><circle cx="616.8" cy="149.1" r="1.5" fill="#4DBBD5"/><circle cx="626.4" cy="188.9" r="1.5" fill="#4DBBD5"/><circle cx="630.2" cy="198" r="1.5" fill="#4DBBD5"/><circle cx="624" cy="201" r="1.5" fill="#4DBBD5"/><circle cx="625" cy="203" r="1.5" fill="#4DBBD5"/><circle cx="624" cy="205" r="1.5" fill="#4DBBD5"/><circle cx="619.8" cy="204.2" r="1.5" fill="#4DBBD5"/><circle cx="619.4" cy="216.6" r="1.5" fill="#4DBBD5"/><circle cx="628" cy="215.3" r="1.5" fill="#4DBBD5"/>
<path d="M22,26 V272 H314" fill="none" stroke="#000" stroke-width="2"/>
<line x1="16.2" y1="41.7" x2="22" y2="41.7" stroke="#000" stroke-width="1.3"/>
<line x1="16.2" y1="112.1" x2="22" y2="112.1" stroke="#000" stroke-width="1.3"/>
<line x1="16.2" y1="182.7" x2="22" y2="182.7" stroke="#000" stroke-width="1.3"/>
<line x1="16.2" y1="253.5" x2="22" y2="253.5" stroke="#000" stroke-width="1.3"/>
<line x1="101.6" y1="272" x2="101.6" y2="276.7" stroke="#000" stroke-width="1.7"/>
<line x1="234" y1="272" x2="234" y2="276.7" stroke="#000" stroke-width="1.7"/>
<path d="M359,32 V271.4 H683" fill="none" stroke="#000" stroke-width="2"/>
<line x1="353.3" y1="52.4" x2="359" y2="52.4" stroke="#000" stroke-width="1.8"/>
<line x1="353.3" y1="107.7" x2="359" y2="107.7" stroke="#000" stroke-width="1.8"/>
<line x1="353.3" y1="162.8" x2="359" y2="162.8" stroke="#000" stroke-width="1.8"/>
<line x1="353.3" y1="218" x2="359" y2="218" stroke="#000" stroke-width="1.8"/>
<line x1="447.2" y1="271.4" x2="447.2" y2="276.9" stroke="#000" stroke-width="1.7"/>
<line x1="593.8" y1="271.4" x2="593.8" y2="276.9" stroke="#000" stroke-width="1.7"/>
<rect x="96.75" y="301.15" width="33.5" height="22.400000000000034" fill="#F3A59A" stroke="#E64B35" stroke-width="1.5"/><circle cx="113.3" cy="312.4" r="2.4" fill="#E64B35"/>
<rect x="97.75" y="337.95" width="33.5" height="21.80000000000001" fill="#A6DDEA" stroke="#4DBBD5" stroke-width="1.5"/><circle cx="114.5" cy="348.8" r="2.4" fill="#4DBBD5"/>
<rect x="456.05" y="303.65" width="33.19999999999999" height="21.700000000000045" fill="#F3A59A" stroke="#E64B35" stroke-width="1.5"/><circle cx="472.6" cy="314.6" r="2.4" fill="#E64B35"/>
<rect x="456.75" y="336.75" width="33.19999999999999" height="22.0" fill="#A6DDEA" stroke="#4DBBD5" stroke-width="1.5"/><circle cx="473.3" cy="347.6" r="2.4" fill="#4DBBD5"/>
<text transform="translate(16.2,10.6) scale(1.0,1.0)" font-size="13" text-anchor="start">A</text>
<text transform="translate(350.5,10.4) scale(1.0,1.0)" font-size="13" text-anchor="start">B</text>
<text transform="translate(64,41.4) scale(1.0,1.0)" font-size="11.1" text-anchor="start">Wilcoxon, p=0.011</text>
<text transform="translate(170,41.3) scale(1.0,1.0)" font-size="11.1" text-anchor="start">Wilcoxon, p=5.1e-05</text>
<text transform="translate(395,42.6) scale(1.0,1.0)" font-size="11.1" text-anchor="start">Wilcoxon, p=1.8-07</text>
<text transform="translate(506.7,42.6) scale(1.0,1.0)" font-size="11.1" text-anchor="start">Wilcoxon, p&lt;2.2e-16</text>
<text transform="translate(98.65,285.9) scale(1.0,1.0)" font-size="11.1" text-anchor="middle">Virulence genes</text>
<text transform="translate(231.15,285.9) scale(1.0,1.0)" font-size="11.1" text-anchor="middle">resistance genes</text>
<text transform="translate(443.5,285) scale(1.0,1.0)" font-size="11.1" text-anchor="middle">Virulence genes</text>
<text transform="translate(590.4,285) scale(1.0,1.0)" font-size="11.1" text-anchor="middle">resistance genes</text>
<text transform="translate(138.3,317.8) scale(1.0,1.0)" font-size="11.1" text-anchor="start">CRISPR-negative</text>
<text transform="translate(138.3,354.8) scale(1.0,1.0)" font-size="11.1" text-anchor="start">CRISPR-positive</text>
<text transform="translate(504.3,318.1) scale(1.0,1.0)" font-size="10.8" text-anchor="start">non-ST2</text>
<text transform="translate(506.8,351) scale(1.0,1.0)" font-size="11.1" text-anchor="start">ST2</text>
<text transform="translate(1.60,46.17) scale(1,1.06)" font-size="10">150</text>
<text transform="translate(2.50,117.27) scale(1,1.06)" font-size="10">100</text>
<text transform="translate(4.20,188.07) scale(1,1.06)" font-size="10">50</text>
<text transform="translate(9.10,258.67) scale(1,1.06)" font-size="10">0</text>
<text transform="translate(339.60,56.87) scale(1,1.06)" font-size="10">150</text>
<text transform="translate(339.10,110.87) scale(1,1.06)" font-size="10">100</text>
<text transform="translate(344.00,166.37) scale(1,1.06)" font-size="10">50</text>
<text transform="translate(349.40,221.57) scale(1,1.06)" font-size="10">0</text>
</svg>
</body></html>
